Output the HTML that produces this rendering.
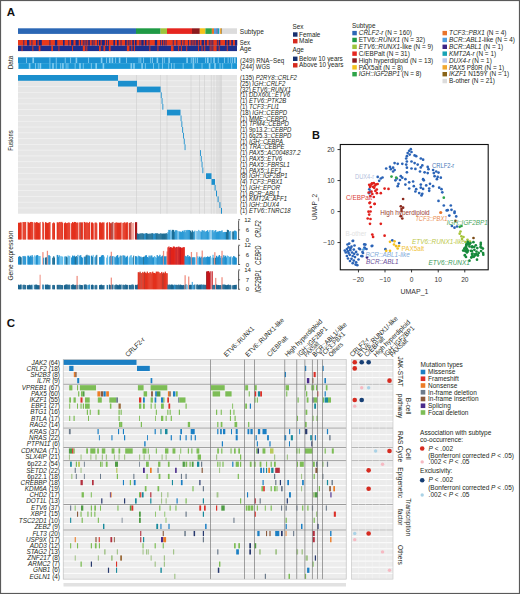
<!DOCTYPE html>
<html><head><meta charset="utf-8"><style>
html,body{margin:0;padding:0;background:#fff;}
svg{display:block;font-family:"Liberation Sans", sans-serif;}

</style></head><body>
<svg width="520" height="594" viewBox="0 0 520 594">
<rect x="0" y="0" width="520" height="594" fill="#fff"/>
<text x="6.80" y="16.30" font-size="11.5" fill="#111" font-weight="bold" >A</text>
<rect x="18.00" y="28.30" width="118.00" height="5.60" fill="#2b67b5" />
<rect x="136.00" y="28.30" width="24.60" height="5.60" fill="#1f9a45" />
<rect x="160.60" y="28.30" width="6.40" height="5.60" fill="#9dc43b" />
<rect x="167.00" y="28.30" width="25.00" height="5.60" fill="#e6261f" />
<rect x="192.00" y="28.30" width="7.80" height="5.60" fill="#8c1b1e" />
<rect x="199.80" y="28.30" width="5.60" height="5.60" fill="#f4c21c" />
<rect x="205.40" y="28.30" width="6.50" height="5.60" fill="#2ea449" />
<rect x="211.90" y="28.30" width="2.10" height="5.60" fill="#e8742b" />
<rect x="214.00" y="28.30" width="2.60" height="5.60" fill="#4f9fdf" />
<rect x="216.60" y="28.30" width="1.00" height="5.60" fill="#3b2383" />
<rect x="217.60" y="28.30" width="1.40" height="5.60" fill="#17a3b5" />
<rect x="219.00" y="28.30" width="1.00" height="5.60" fill="#b9c6ea" />
<rect x="220.00" y="28.30" width="1.00" height="5.60" fill="#f0a72f" />
<rect x="221.00" y="28.30" width="0.80" height="5.60" fill="#8a6417" />
<rect x="221.80" y="28.30" width="15.20" height="5.60" fill="#dcdcdc" />
<rect x="18.00" y="40.00" width="219.00" height="5.60" fill="#e8391b" />
<rect x="23.40" y="40.00" width="0.85" height="5.60" fill="#1a2783" />
<rect x="27.00" y="40.00" width="2.35" height="5.60" fill="#1a2783" />
<rect x="31.50" y="40.00" width="0.85" height="5.60" fill="#1a2783" />
<rect x="36.00" y="40.00" width="1.60" height="5.60" fill="#1a2783" />
<rect x="38.70" y="40.00" width="3.10" height="5.60" fill="#1a2783" />
<rect x="49.50" y="40.00" width="0.85" height="5.60" fill="#1a2783" />
<rect x="54.90" y="40.00" width="2.35" height="5.60" fill="#1a2783" />
<rect x="63.00" y="40.00" width="1.60" height="5.60" fill="#1a2783" />
<rect x="68.40" y="40.00" width="0.85" height="5.60" fill="#1a2783" />
<rect x="71.10" y="40.00" width="2.35" height="5.60" fill="#1a2783" />
<rect x="75.60" y="40.00" width="3.10" height="5.60" fill="#1a2783" />
<rect x="80.10" y="40.00" width="0.85" height="5.60" fill="#1a2783" />
<rect x="82.80" y="40.00" width="0.85" height="5.60" fill="#1a2783" />
<rect x="84.60" y="40.00" width="0.85" height="5.60" fill="#1a2783" />
<rect x="86.40" y="40.00" width="0.85" height="5.60" fill="#1a2783" />
<rect x="88.20" y="40.00" width="1.60" height="5.60" fill="#1a2783" />
<rect x="91.80" y="40.00" width="0.85" height="5.60" fill="#1a2783" />
<rect x="93.60" y="40.00" width="0.85" height="5.60" fill="#1a2783" />
<rect x="97.20" y="40.00" width="0.85" height="5.60" fill="#1a2783" />
<rect x="99.00" y="40.00" width="1.60" height="5.60" fill="#1a2783" />
<rect x="101.70" y="40.00" width="3.10" height="5.60" fill="#1a2783" />
<rect x="106.20" y="40.00" width="0.85" height="5.60" fill="#1a2783" />
<rect x="108.00" y="40.00" width="0.85" height="5.60" fill="#1a2783" />
<rect x="113.40" y="40.00" width="1.60" height="5.60" fill="#1a2783" />
<rect x="117.00" y="40.00" width="1.60" height="5.60" fill="#1a2783" />
<rect x="120.60" y="40.00" width="0.85" height="5.60" fill="#1a2783" />
<rect x="125.10" y="40.00" width="1.60" height="5.60" fill="#1a2783" />
<rect x="127.80" y="40.00" width="0.85" height="5.60" fill="#1a2783" />
<rect x="129.60" y="40.00" width="0.85" height="5.60" fill="#1a2783" />
<rect x="132.30" y="40.00" width="1.60" height="5.60" fill="#1a2783" />
<rect x="135.00" y="40.00" width="1.60" height="5.60" fill="#1a2783" />
<rect x="139.50" y="40.00" width="0.85" height="5.60" fill="#1a2783" />
<rect x="141.30" y="40.00" width="2.35" height="5.60" fill="#1a2783" />
<rect x="144.90" y="40.00" width="1.60" height="5.60" fill="#1a2783" />
<rect x="148.50" y="40.00" width="0.85" height="5.60" fill="#1a2783" />
<rect x="154.80" y="40.00" width="2.35" height="5.60" fill="#1a2783" />
<rect x="160.20" y="40.00" width="0.85" height="5.60" fill="#1a2783" />
<rect x="162.00" y="40.00" width="0.85" height="5.60" fill="#1a2783" />
<rect x="163.80" y="40.00" width="0.85" height="5.60" fill="#1a2783" />
<rect x="165.60" y="40.00" width="0.85" height="5.60" fill="#1a2783" />
<rect x="172.80" y="40.00" width="0.85" height="5.60" fill="#1a2783" />
<rect x="176.40" y="40.00" width="0.85" height="5.60" fill="#1a2783" />
<rect x="180.90" y="40.00" width="0.85" height="5.60" fill="#1a2783" />
<rect x="183.60" y="40.00" width="0.85" height="5.60" fill="#1a2783" />
<rect x="188.10" y="40.00" width="0.85" height="5.60" fill="#1a2783" />
<rect x="190.80" y="40.00" width="0.85" height="5.60" fill="#1a2783" />
<rect x="192.60" y="40.00" width="0.85" height="5.60" fill="#1a2783" />
<rect x="194.40" y="40.00" width="0.85" height="5.60" fill="#1a2783" />
<rect x="196.20" y="40.00" width="1.60" height="5.60" fill="#1a2783" />
<rect x="198.90" y="40.00" width="0.85" height="5.60" fill="#1a2783" />
<rect x="201.60" y="40.00" width="2.35" height="5.60" fill="#1a2783" />
<rect x="205.20" y="40.00" width="1.60" height="5.60" fill="#1a2783" />
<rect x="208.80" y="40.00" width="0.85" height="5.60" fill="#1a2783" />
<rect x="210.60" y="40.00" width="0.85" height="5.60" fill="#1a2783" />
<rect x="212.40" y="40.00" width="0.85" height="5.60" fill="#1a2783" />
<rect x="216.90" y="40.00" width="0.85" height="5.60" fill="#1a2783" />
<rect x="218.70" y="40.00" width="1.60" height="5.60" fill="#1a2783" />
<rect x="225.00" y="40.00" width="1.60" height="5.60" fill="#1a2783" />
<rect x="227.70" y="40.00" width="1.60" height="5.60" fill="#1a2783" />
<rect x="231.30" y="40.00" width="1.60" height="5.60" fill="#1a2783" />
<rect x="234.90" y="40.00" width="2.35" height="5.60" fill="#1a2783" />
<rect x="18.00" y="45.60" width="219.00" height="5.50" fill="#1c2f8c" />
<rect x="21.60" y="45.60" width="0.90" height="5.50" fill="#e8391b" />
<rect x="32.40" y="45.60" width="0.90" height="5.50" fill="#e8391b" />
<rect x="38.70" y="45.60" width="1.70" height="5.50" fill="#e8391b" />
<rect x="51.30" y="45.60" width="1.70" height="5.50" fill="#e8391b" />
<rect x="58.50" y="45.60" width="0.90" height="5.50" fill="#e8391b" />
<rect x="72.00" y="45.60" width="0.90" height="5.50" fill="#e8391b" />
<rect x="82.80" y="45.60" width="2.50" height="5.50" fill="#e8391b" />
<rect x="86.40" y="45.60" width="0.90" height="5.50" fill="#e8391b" />
<rect x="99.00" y="45.60" width="1.70" height="5.50" fill="#e8391b" />
<rect x="103.50" y="45.60" width="1.70" height="5.50" fill="#e8391b" />
<rect x="108.90" y="45.60" width="1.70" height="5.50" fill="#e8391b" />
<rect x="126.90" y="45.60" width="2.50" height="5.50" fill="#e8391b" />
<rect x="131.40" y="45.60" width="0.90" height="5.50" fill="#e8391b" />
<rect x="134.10" y="45.60" width="0.90" height="5.50" fill="#e8391b" />
<rect x="149.40" y="45.60" width="0.90" height="5.50" fill="#e8391b" />
<rect x="157.50" y="45.60" width="0.90" height="5.50" fill="#e8391b" />
<rect x="171.00" y="45.60" width="2.50" height="5.50" fill="#e8391b" />
<rect x="178.20" y="45.60" width="0.90" height="5.50" fill="#e8391b" />
<rect x="180.90" y="45.60" width="0.90" height="5.50" fill="#e8391b" />
<rect x="186.30" y="45.60" width="0.90" height="5.50" fill="#e8391b" />
<rect x="198.00" y="45.60" width="0.90" height="5.50" fill="#e8391b" />
<rect x="201.60" y="45.60" width="0.90" height="5.50" fill="#e8391b" />
<rect x="204.30" y="45.60" width="0.90" height="5.50" fill="#e8391b" />
<rect x="209.70" y="45.60" width="0.90" height="5.50" fill="#e8391b" />
<rect x="211.50" y="45.60" width="0.90" height="5.50" fill="#e8391b" />
<rect x="213.30" y="45.60" width="3.30" height="5.50" fill="#e8391b" />
<rect x="218.70" y="45.60" width="0.90" height="5.50" fill="#e8391b" />
<rect x="226.80" y="45.60" width="0.90" height="5.50" fill="#e8391b" />
<rect x="18.00" y="57.30" width="219.00" height="5.80" fill="#1a8fd0" />
<rect x="26.10" y="57.30" width="0.85" height="5.80" fill="#86cdf0" />
<rect x="32.40" y="57.30" width="1.60" height="5.80" fill="#86cdf0" />
<rect x="49.50" y="57.30" width="0.85" height="5.80" fill="#86cdf0" />
<rect x="55.80" y="57.30" width="0.85" height="5.80" fill="#86cdf0" />
<rect x="64.80" y="57.30" width="0.85" height="5.80" fill="#86cdf0" />
<rect x="70.20" y="57.30" width="0.85" height="5.80" fill="#86cdf0" />
<rect x="75.60" y="57.30" width="1.60" height="5.80" fill="#86cdf0" />
<rect x="88.20" y="57.30" width="0.85" height="5.80" fill="#86cdf0" />
<rect x="100.80" y="57.30" width="1.60" height="5.80" fill="#86cdf0" />
<rect x="106.20" y="57.30" width="0.85" height="5.80" fill="#86cdf0" />
<rect x="108.90" y="57.30" width="1.60" height="5.80" fill="#86cdf0" />
<rect x="111.60" y="57.30" width="1.60" height="5.80" fill="#86cdf0" />
<rect x="115.20" y="57.30" width="0.85" height="5.80" fill="#86cdf0" />
<rect x="118.80" y="57.30" width="1.60" height="5.80" fill="#86cdf0" />
<rect x="126.00" y="57.30" width="0.85" height="5.80" fill="#86cdf0" />
<rect x="138.60" y="57.30" width="0.85" height="5.80" fill="#86cdf0" />
<rect x="140.40" y="57.30" width="0.85" height="5.80" fill="#86cdf0" />
<rect x="143.10" y="57.30" width="0.85" height="5.80" fill="#86cdf0" />
<rect x="150.30" y="57.30" width="0.85" height="5.80" fill="#86cdf0" />
<rect x="152.10" y="57.30" width="0.85" height="5.80" fill="#86cdf0" />
<rect x="156.60" y="57.30" width="1.60" height="5.80" fill="#86cdf0" />
<rect x="162.00" y="57.30" width="0.85" height="5.80" fill="#86cdf0" />
<rect x="163.80" y="57.30" width="0.85" height="5.80" fill="#86cdf0" />
<rect x="168.30" y="57.30" width="1.60" height="5.80" fill="#86cdf0" />
<rect x="186.30" y="57.30" width="1.60" height="5.80" fill="#86cdf0" />
<rect x="190.80" y="57.30" width="0.85" height="5.80" fill="#86cdf0" />
<rect x="192.60" y="57.30" width="1.60" height="5.80" fill="#86cdf0" />
<rect x="195.30" y="57.30" width="0.85" height="5.80" fill="#86cdf0" />
<rect x="197.10" y="57.30" width="0.85" height="5.80" fill="#86cdf0" />
<rect x="205.20" y="57.30" width="0.85" height="5.80" fill="#86cdf0" />
<rect x="207.00" y="57.30" width="1.60" height="5.80" fill="#86cdf0" />
<rect x="210.60" y="57.30" width="0.85" height="5.80" fill="#86cdf0" />
<rect x="213.30" y="57.30" width="1.60" height="5.80" fill="#86cdf0" />
<rect x="217.80" y="57.30" width="0.85" height="5.80" fill="#86cdf0" />
<rect x="224.10" y="57.30" width="0.85" height="5.80" fill="#86cdf0" />
<rect x="227.70" y="57.30" width="0.85" height="5.80" fill="#86cdf0" />
<rect x="230.40" y="57.30" width="0.85" height="5.80" fill="#86cdf0" />
<rect x="232.20" y="57.30" width="0.85" height="5.80" fill="#86cdf0" />
<rect x="234.00" y="57.30" width="1.60" height="5.80" fill="#86cdf0" />
<rect x="18.00" y="63.10" width="219.00" height="5.80" fill="#1b97d5" />
<rect x="18.00" y="63.10" width="0.85" height="5.80" fill="#86cdf0" />
<rect x="28.80" y="63.10" width="1.60" height="5.80" fill="#86cdf0" />
<rect x="35.10" y="63.10" width="0.85" height="5.80" fill="#86cdf0" />
<rect x="37.80" y="63.10" width="0.85" height="5.80" fill="#86cdf0" />
<rect x="39.60" y="63.10" width="1.60" height="5.80" fill="#86cdf0" />
<rect x="49.50" y="63.10" width="0.85" height="5.80" fill="#86cdf0" />
<rect x="52.20" y="63.10" width="1.60" height="5.80" fill="#86cdf0" />
<rect x="55.80" y="63.10" width="0.85" height="5.80" fill="#86cdf0" />
<rect x="60.30" y="63.10" width="0.85" height="5.80" fill="#86cdf0" />
<rect x="62.10" y="63.10" width="1.60" height="5.80" fill="#86cdf0" />
<rect x="65.70" y="63.10" width="0.85" height="5.80" fill="#86cdf0" />
<rect x="67.50" y="63.10" width="0.85" height="5.80" fill="#86cdf0" />
<rect x="74.70" y="63.10" width="0.85" height="5.80" fill="#86cdf0" />
<rect x="79.20" y="63.10" width="1.60" height="5.80" fill="#86cdf0" />
<rect x="82.80" y="63.10" width="0.85" height="5.80" fill="#86cdf0" />
<rect x="90.90" y="63.10" width="0.85" height="5.80" fill="#86cdf0" />
<rect x="95.40" y="63.10" width="1.60" height="5.80" fill="#86cdf0" />
<rect x="102.60" y="63.10" width="1.60" height="5.80" fill="#86cdf0" />
<rect x="130.50" y="63.10" width="1.60" height="5.80" fill="#86cdf0" />
<rect x="133.20" y="63.10" width="1.60" height="5.80" fill="#86cdf0" />
<rect x="141.30" y="63.10" width="1.60" height="5.80" fill="#86cdf0" />
<rect x="144.90" y="63.10" width="0.85" height="5.80" fill="#86cdf0" />
<rect x="153.00" y="63.10" width="0.85" height="5.80" fill="#86cdf0" />
<rect x="158.40" y="63.10" width="0.85" height="5.80" fill="#86cdf0" />
<rect x="162.00" y="63.10" width="0.85" height="5.80" fill="#86cdf0" />
<rect x="168.30" y="63.10" width="0.85" height="5.80" fill="#86cdf0" />
<rect x="171.00" y="63.10" width="0.85" height="5.80" fill="#86cdf0" />
<rect x="173.70" y="63.10" width="0.85" height="5.80" fill="#86cdf0" />
<rect x="182.70" y="63.10" width="0.85" height="5.80" fill="#86cdf0" />
<rect x="192.60" y="63.10" width="1.60" height="5.80" fill="#86cdf0" />
<rect x="201.60" y="63.10" width="0.85" height="5.80" fill="#86cdf0" />
<rect x="208.80" y="63.10" width="1.60" height="5.80" fill="#86cdf0" />
<rect x="214.20" y="63.10" width="1.60" height="5.80" fill="#86cdf0" />
<rect x="219.60" y="63.10" width="0.85" height="5.80" fill="#86cdf0" />
<rect x="222.30" y="63.10" width="0.85" height="5.80" fill="#86cdf0" />
<rect x="231.30" y="63.10" width="0.85" height="5.80" fill="#86cdf0" />
<rect x="18.00" y="75.00" width="219.00" height="138.72" fill="#e6e6e6" />
<rect x="18.00" y="80.43" width="219.00" height="0.70" fill="#f3f3f3" />
<rect x="18.00" y="86.21" width="219.00" height="0.70" fill="#f3f3f3" />
<rect x="18.00" y="91.99" width="219.00" height="0.70" fill="#f3f3f3" />
<rect x="18.00" y="97.77" width="219.00" height="0.70" fill="#f3f3f3" />
<rect x="18.00" y="103.55" width="219.00" height="0.70" fill="#f3f3f3" />
<rect x="18.00" y="109.33" width="219.00" height="0.70" fill="#f3f3f3" />
<rect x="18.00" y="115.11" width="219.00" height="0.70" fill="#f3f3f3" />
<rect x="18.00" y="120.89" width="219.00" height="0.70" fill="#f3f3f3" />
<rect x="18.00" y="126.67" width="219.00" height="0.70" fill="#f3f3f3" />
<rect x="18.00" y="132.45" width="219.00" height="0.70" fill="#f3f3f3" />
<rect x="18.00" y="138.23" width="219.00" height="0.70" fill="#f3f3f3" />
<rect x="18.00" y="144.01" width="219.00" height="0.70" fill="#f3f3f3" />
<rect x="18.00" y="149.79" width="219.00" height="0.70" fill="#f3f3f3" />
<rect x="18.00" y="155.57" width="219.00" height="0.70" fill="#f3f3f3" />
<rect x="18.00" y="161.35" width="219.00" height="0.70" fill="#f3f3f3" />
<rect x="18.00" y="167.13" width="219.00" height="0.70" fill="#f3f3f3" />
<rect x="18.00" y="172.91" width="219.00" height="0.70" fill="#f3f3f3" />
<rect x="18.00" y="178.69" width="219.00" height="0.70" fill="#f3f3f3" />
<rect x="18.00" y="184.47" width="219.00" height="0.70" fill="#f3f3f3" />
<rect x="18.00" y="190.25" width="219.00" height="0.70" fill="#f3f3f3" />
<rect x="18.00" y="196.03" width="219.00" height="0.70" fill="#f3f3f3" />
<rect x="18.00" y="201.81" width="219.00" height="0.70" fill="#f3f3f3" />
<rect x="18.00" y="207.59" width="219.00" height="0.70" fill="#f3f3f3" />
<rect x="136.00" y="75.00" width="0.60" height="138.72" fill="#cfcfcf" />
<rect x="160.20" y="75.00" width="0.60" height="138.72" fill="#cfcfcf" />
<rect x="166.70" y="75.00" width="0.60" height="138.72" fill="#cfcfcf" />
<rect x="190.70" y="75.00" width="0.60" height="138.72" fill="#cfcfcf" />
<rect x="199.00" y="75.00" width="0.60" height="138.72" fill="#cfcfcf" />
<rect x="204.20" y="75.00" width="0.60" height="138.72" fill="#cfcfcf" />
<rect x="210.90" y="75.00" width="0.60" height="138.72" fill="#cfcfcf" />
<rect x="213.70" y="75.00" width="0.60" height="138.72" fill="#cfcfcf" />
<rect x="216.60" y="75.00" width="0.60" height="138.72" fill="#cfcfcf" />
<rect x="217.70" y="75.00" width="0.60" height="138.72" fill="#cfcfcf" />
<rect x="218.90" y="75.00" width="0.60" height="138.72" fill="#cfcfcf" />
<rect x="220.00" y="75.00" width="0.60" height="138.72" fill="#cfcfcf" />
<rect x="221.20" y="75.00" width="0.60" height="138.72" fill="#cfcfcf" />
<rect x="18.00" y="75.00" width="100.00" height="5.78" fill="#1b8fcd" />
<rect x="118.00" y="80.78" width="19.00" height="5.78" fill="#1b8fcd" />
<rect x="137.00" y="86.56" width="23.60" height="5.78" fill="#1b8fcd" />
<rect x="160.80" y="92.34" width="0.90" height="5.78" fill="#1b8fcd" />
<rect x="161.60" y="98.12" width="0.90" height="5.78" fill="#1b8fcd" />
<rect x="162.40" y="103.90" width="0.90" height="5.78" fill="#1b8fcd" />
<rect x="167.00" y="109.68" width="13.50" height="5.78" fill="#1b8fcd" />
<rect x="180.60" y="115.46" width="0.90" height="5.78" fill="#1b8fcd" />
<rect x="181.40" y="121.24" width="0.90" height="5.78" fill="#1b8fcd" />
<rect x="182.20" y="127.02" width="0.90" height="5.78" fill="#1b8fcd" />
<rect x="183.00" y="132.80" width="0.90" height="5.78" fill="#1b8fcd" />
<rect x="183.80" y="138.58" width="0.90" height="5.78" fill="#1b8fcd" />
<rect x="184.60" y="144.36" width="0.90" height="5.78" fill="#1b8fcd" />
<rect x="200.00" y="150.14" width="0.90" height="5.78" fill="#1b8fcd" />
<rect x="200.80" y="155.92" width="0.90" height="5.78" fill="#1b8fcd" />
<rect x="201.60" y="161.70" width="0.90" height="5.78" fill="#1b8fcd" />
<rect x="202.40" y="167.48" width="0.90" height="5.78" fill="#1b8fcd" />
<rect x="206.00" y="173.26" width="5.50" height="5.78" fill="#1b8fcd" />
<rect x="211.50" y="179.04" width="3.50" height="5.78" fill="#1b8fcd" />
<rect x="214.60" y="184.82" width="1.00" height="5.78" fill="#1b8fcd" />
<rect x="216.00" y="190.60" width="1.00" height="5.78" fill="#1b8fcd" />
<rect x="217.60" y="196.38" width="1.00" height="5.78" fill="#1b8fcd" />
<rect x="219.40" y="202.16" width="1.00" height="5.78" fill="#1b8fcd" />
<rect x="221.00" y="207.94" width="1.00" height="5.78" fill="#1b8fcd" />
<text x="239.80" y="33.70" font-size="6.6" fill="#231f20" textLength="24" lengthAdjust="spacingAndGlyphs">Subtype</text>
<text x="239.80" y="44.70" font-size="6.8" fill="#231f20" textLength="10.2" lengthAdjust="spacingAndGlyphs">Sex</text>
<text x="239.80" y="51.00" font-size="6.8" fill="#231f20" textLength="11.5" lengthAdjust="spacingAndGlyphs">Age</text>
<text x="240.10" y="62.80" font-size="6.5" fill="#231f20" textLength="44" lengthAdjust="spacingAndGlyphs">(249) RNA−Seq</text>
<text x="240.10" y="68.60" font-size="6.5" fill="#231f20" textLength="30" lengthAdjust="spacingAndGlyphs">(244) WGS</text>
<text x="240.00" y="80.09" font-size="6.5" fill="#231f20" textLength="56.9" lengthAdjust="spacingAndGlyphs">(135) <tspan font-style="italic">P2RY8</tspan>::<tspan font-style="italic">CRLF2</tspan></text>
<text x="240.00" y="85.87" font-size="6.5" fill="#231f20" textLength="45.3" lengthAdjust="spacingAndGlyphs">(25) <tspan font-style="italic">IGH</tspan>::<tspan font-style="italic">CRLF2</tspan></text>
<text x="240.00" y="91.65" font-size="6.5" fill="#231f20" textLength="51.0" lengthAdjust="spacingAndGlyphs">(32) <tspan font-style="italic">ETV6</tspan>::<tspan font-style="italic">RUNX1</tspan></text>
<text x="240.00" y="97.43" font-size="6.5" fill="#231f20" textLength="50.0" lengthAdjust="spacingAndGlyphs">(1) <tspan font-style="italic">DDX60L</tspan>::<tspan font-style="italic">ETV6</tspan></text>
<text x="240.00" y="103.21" font-size="6.5" fill="#231f20" textLength="46.3" lengthAdjust="spacingAndGlyphs">(1) <tspan font-style="italic">ETV6</tspan>::<tspan font-style="italic">PTK2B</tspan></text>
<text x="240.00" y="108.99" font-size="6.5" fill="#231f20" textLength="39.2" lengthAdjust="spacingAndGlyphs">(1) <tspan font-style="italic">TCF3</tspan>::<tspan font-style="italic">FLI1</tspan></text>
<text x="240.00" y="114.77" font-size="6.5" fill="#231f20" textLength="47.0" lengthAdjust="spacingAndGlyphs">(18) <tspan font-style="italic">IGH</tspan>::<tspan font-style="italic">CEBPD</tspan></text>
<text x="240.00" y="120.55" font-size="6.5" fill="#231f20" textLength="47.0" lengthAdjust="spacingAndGlyphs">(1) <tspan font-style="italic">MME</tspan>::<tspan font-style="italic">CEBPD</tspan></text>
<text x="240.00" y="126.33" font-size="6.5" fill="#231f20" textLength="48.9" lengthAdjust="spacingAndGlyphs">(1) <tspan font-style="italic">TPM4</tspan>::<tspan font-style="italic">CEBPD</tspan></text>
<text x="240.00" y="132.11" font-size="6.5" fill="#231f20" textLength="51.4" lengthAdjust="spacingAndGlyphs">(1) 9p13.2::<tspan font-style="italic">CEBPD</tspan></text>
<text x="240.00" y="137.89" font-size="6.5" fill="#231f20" textLength="51.4" lengthAdjust="spacingAndGlyphs">(1) 6q25.3::<tspan font-style="italic">CEBPD</tspan></text>
<text x="240.00" y="143.67" font-size="6.5" fill="#231f20" textLength="42.9" lengthAdjust="spacingAndGlyphs">(1) <tspan font-style="italic">IGH</tspan>::<tspan font-style="italic">CEBPA</tspan></text>
<text x="240.00" y="149.45" font-size="6.5" fill="#231f20" textLength="44.6" lengthAdjust="spacingAndGlyphs">(1) <tspan font-style="italic">TRA</tspan>::<tspan font-style="italic">CEBPE</tspan></text>
<text x="240.00" y="155.23" font-size="6.5" fill="#231f20" textLength="60.6" lengthAdjust="spacingAndGlyphs">(1) <tspan font-style="italic">PAX5</tspan>::<tspan font-style="italic">AC004837.2</tspan></text>
<text x="240.00" y="161.01" font-size="6.5" fill="#231f20" textLength="42.2" lengthAdjust="spacingAndGlyphs">(1) <tspan font-style="italic">PAX5</tspan>::<tspan font-style="italic">ETV6</tspan></text>
<text x="240.00" y="166.79" font-size="6.5" fill="#231f20" textLength="49.9" lengthAdjust="spacingAndGlyphs">(1) <tspan font-style="italic">PAX5</tspan>::<tspan font-style="italic">FBRSL1</tspan></text>
<text x="240.00" y="172.57" font-size="6.5" fill="#231f20" textLength="41.6" lengthAdjust="spacingAndGlyphs">(1) <tspan font-style="italic">PAX5</tspan>::<tspan font-style="italic">LEF1</tspan></text>
<text x="240.00" y="178.35" font-size="6.5" fill="#231f20" textLength="47.7" lengthAdjust="spacingAndGlyphs">(8) <tspan font-style="italic">IGH</tspan>::<tspan font-style="italic">IGF2BP1</tspan></text>
<text x="240.00" y="184.13" font-size="6.5" fill="#231f20" textLength="42.6" lengthAdjust="spacingAndGlyphs">(4) <tspan font-style="italic">TCF3</tspan>::<tspan font-style="italic">PBX1</tspan></text>
<text x="240.00" y="189.91" font-size="6.5" fill="#231f20" textLength="40.0" lengthAdjust="spacingAndGlyphs">(1) <tspan font-style="italic">IGH</tspan>::<tspan font-style="italic">EPOR</tspan></text>
<text x="240.00" y="195.69" font-size="6.5" fill="#231f20" textLength="39.7" lengthAdjust="spacingAndGlyphs">(1) <tspan font-style="italic">BCR</tspan>::<tspan font-style="italic">ABL1</tspan></text>
<text x="240.00" y="201.47" font-size="6.5" fill="#231f20" textLength="47.0" lengthAdjust="spacingAndGlyphs">(1) <tspan font-style="italic">KMT2A</tspan>::<tspan font-style="italic">AFF1</tspan></text>
<text x="240.00" y="207.25" font-size="6.5" fill="#231f20" textLength="39.0" lengthAdjust="spacingAndGlyphs">(1) <tspan font-style="italic">IGH</tspan>::<tspan font-style="italic">DUX4</tspan></text>
<text x="240.00" y="213.03" font-size="6.5" fill="#231f20" textLength="50.7" lengthAdjust="spacingAndGlyphs">(1) <tspan font-style="italic">ETV6</tspan>::<tspan font-style="italic">TNRC18</tspan></text>
<text x="0.00" y="0.00" font-size="6.5" fill="#231f20" text-anchor="middle" transform="translate(12.7,62.5) rotate(-90)" >Data</text>
<text x="0.00" y="0.00" font-size="6.5" fill="#231f20" text-anchor="middle" transform="translate(12.7,140.6) rotate(-90)" textLength="20.5" lengthAdjust="spacingAndGlyphs">Fusions</text>
<text x="0.00" y="0.00" font-size="7.6" fill="#231f20" text-anchor="middle" transform="translate(13.2,255.6) rotate(-90)" textLength="50" lengthAdjust="spacingAndGlyphs">Gene expression</text>
<rect x="18.00" y="222.73" width="1.25" height="16.77" fill="#e3311d" />
<rect x="18.90" y="222.78" width="1.25" height="16.72" fill="#e3311d" />
<rect x="19.80" y="222.45" width="1.25" height="17.05" fill="#e3311d" />
<rect x="20.70" y="222.45" width="1.00" height="17.05" fill="#e3311d" />
<rect x="22.50" y="222.00" width="1.25" height="17.50" fill="#e3311d" />
<rect x="23.40" y="222.31" width="1.25" height="17.19" fill="#e3311d" />
<rect x="24.30" y="221.96" width="1.25" height="17.54" fill="#e3311d" />
<rect x="25.20" y="222.06" width="1.00" height="17.44" fill="#e3311d" />
<rect x="27.00" y="221.87" width="1.25" height="17.63" fill="#f4a198" />
<rect x="27.90" y="222.33" width="1.25" height="17.17" fill="#e3311d" />
<rect x="28.80" y="223.05" width="1.25" height="16.45" fill="#e3311d" />
<rect x="29.70" y="222.06" width="1.25" height="17.44" fill="#e3311d" />
<rect x="30.60" y="221.91" width="1.25" height="17.59" fill="#e3311d" />
<rect x="31.50" y="222.00" width="1.25" height="17.50" fill="#e3311d" />
<rect x="32.40" y="222.47" width="1.00" height="17.03" fill="#e3311d" />
<rect x="34.20" y="222.27" width="1.25" height="17.23" fill="#e3311d" />
<rect x="35.10" y="222.98" width="1.25" height="16.52" fill="#e3311d" />
<rect x="36.00" y="222.10" width="1.25" height="17.40" fill="#e3311d" />
<rect x="36.90" y="222.46" width="1.25" height="17.04" fill="#e3311d" />
<rect x="37.80" y="222.87" width="1.25" height="16.63" fill="#e3311d" />
<rect x="38.70" y="223.19" width="1.25" height="16.31" fill="#e3311d" />
<rect x="39.60" y="222.07" width="1.00" height="17.43" fill="#e3311d" />
<rect x="42.30" y="221.87" width="1.25" height="17.63" fill="#e3311d" />
<rect x="43.20" y="223.15" width="1.00" height="16.35" fill="#e3311d" />
<rect x="45.00" y="222.14" width="1.25" height="17.36" fill="#e3311d" />
<rect x="45.90" y="222.70" width="1.25" height="16.80" fill="#e3311d" />
<rect x="46.80" y="223.06" width="1.25" height="16.44" fill="#e3311d" />
<rect x="47.70" y="222.86" width="1.25" height="16.64" fill="#e3311d" />
<rect x="48.60" y="222.19" width="1.25" height="17.31" fill="#e3311d" />
<rect x="49.50" y="222.04" width="1.00" height="17.46" fill="#e3311d" />
<rect x="52.20" y="223.21" width="1.25" height="16.29" fill="#e3311d" />
<rect x="53.10" y="222.41" width="1.25" height="17.09" fill="#e3311d" />
<rect x="54.00" y="223.21" width="1.00" height="16.29" fill="#e3311d" />
<rect x="56.70" y="222.26" width="1.25" height="17.24" fill="#e3311d" />
<rect x="57.60" y="222.81" width="1.25" height="16.69" fill="#e3311d" />
<rect x="58.50" y="222.03" width="1.25" height="17.47" fill="#e3311d" />
<rect x="59.40" y="221.89" width="1.25" height="17.61" fill="#e3311d" />
<rect x="60.30" y="222.56" width="1.25" height="16.94" fill="#e3311d" />
<rect x="61.20" y="221.86" width="1.25" height="17.64" fill="#e3311d" />
<rect x="62.10" y="222.84" width="1.00" height="16.66" fill="#e3311d" />
<rect x="63.90" y="223.17" width="1.25" height="16.33" fill="#e3311d" />
<rect x="64.80" y="222.43" width="1.25" height="17.07" fill="#e3311d" />
<rect x="65.70" y="223.23" width="1.25" height="16.27" fill="#e3311d" />
<rect x="66.60" y="223.00" width="1.25" height="16.50" fill="#e3311d" />
<rect x="67.50" y="222.70" width="1.25" height="16.80" fill="#e3311d" />
<rect x="68.40" y="222.41" width="1.25" height="17.09" fill="#e3311d" />
<rect x="69.30" y="223.06" width="1.00" height="16.44" fill="#e3311d" />
<rect x="71.10" y="223.22" width="1.25" height="16.28" fill="#e3311d" />
<rect x="72.00" y="222.05" width="1.25" height="17.45" fill="#e3311d" />
<rect x="72.90" y="222.83" width="1.25" height="16.67" fill="#e3311d" />
<rect x="73.80" y="221.92" width="1.25" height="17.58" fill="#e3311d" />
<rect x="74.70" y="222.01" width="1.25" height="17.49" fill="#e3311d" />
<rect x="75.60" y="222.74" width="1.25" height="16.76" fill="#e3311d" />
<rect x="76.50" y="222.62" width="1.25" height="16.88" fill="#e3311d" />
<rect x="77.40" y="222.54" width="1.00" height="16.96" fill="#e3311d" />
<rect x="79.20" y="222.36" width="1.25" height="17.14" fill="#e3311d" />
<rect x="80.10" y="222.43" width="1.25" height="17.07" fill="#b8433a" />
<rect x="81.00" y="222.48" width="1.25" height="17.02" fill="#e3311d" />
<rect x="81.90" y="222.40" width="1.00" height="17.10" fill="#e3311d" />
<rect x="83.70" y="221.94" width="1.25" height="17.56" fill="#e3311d" />
<rect x="84.60" y="222.56" width="1.25" height="16.94" fill="#e3311d" />
<rect x="85.50" y="222.67" width="1.25" height="16.83" fill="#e3311d" />
<rect x="86.40" y="222.26" width="1.25" height="17.24" fill="#e3311d" />
<rect x="87.30" y="222.94" width="1.25" height="16.56" fill="#e3311d" />
<rect x="88.20" y="222.85" width="1.25" height="16.65" fill="#e3311d" />
<rect x="89.10" y="221.89" width="1.00" height="17.61" fill="#e3311d" />
<rect x="90.90" y="222.54" width="1.25" height="16.96" fill="#e3311d" />
<rect x="91.80" y="222.50" width="1.25" height="17.00" fill="#e3311d" />
<rect x="92.70" y="223.26" width="1.00" height="16.24" fill="#e3311d" />
<rect x="94.50" y="222.69" width="1.25" height="16.81" fill="#e3311d" />
<rect x="95.40" y="222.46" width="1.25" height="17.04" fill="#e3311d" />
<rect x="96.30" y="223.25" width="1.00" height="16.25" fill="#e3311d" />
<rect x="99.00" y="222.40" width="1.25" height="17.10" fill="#e3311d" />
<rect x="99.90" y="222.38" width="1.25" height="17.12" fill="#e3311d" />
<rect x="100.80" y="223.19" width="1.25" height="16.31" fill="#e3311d" />
<rect x="101.70" y="222.39" width="1.25" height="17.11" fill="#e3311d" />
<rect x="102.60" y="222.62" width="1.25" height="16.88" fill="#e3311d" />
<rect x="103.50" y="222.31" width="1.00" height="17.19" fill="#e3311d" />
<rect x="106.20" y="222.78" width="1.25" height="16.72" fill="#e3311d" />
<rect x="107.10" y="222.28" width="1.00" height="17.22" fill="#e3311d" />
<rect x="108.90" y="222.23" width="1.25" height="17.27" fill="#e3311d" />
<rect x="109.80" y="223.25" width="1.25" height="16.25" fill="#e3311d" />
<rect x="110.70" y="223.19" width="1.25" height="16.31" fill="#b8433a" />
<rect x="111.60" y="222.32" width="1.25" height="17.18" fill="#b8433a" />
<rect x="112.50" y="221.91" width="1.00" height="17.59" fill="#b8433a" />
<rect x="114.30" y="222.92" width="1.25" height="16.58" fill="#e3311d" />
<rect x="115.20" y="222.63" width="1.25" height="16.87" fill="#e3311d" />
<rect x="116.10" y="222.44" width="1.25" height="17.06" fill="#e3311d" />
<rect x="117.00" y="222.82" width="1.25" height="16.68" fill="#e3311d" />
<rect x="117.90" y="222.76" width="1.25" height="16.74" fill="#e3311d" />
<rect x="118.80" y="222.83" width="1.25" height="16.67" fill="#e3311d" />
<rect x="119.70" y="222.75" width="1.25" height="16.75" fill="#e3311d" />
<rect x="120.60" y="222.43" width="1.00" height="17.07" fill="#e3311d" />
<rect x="122.40" y="222.85" width="1.25" height="16.65" fill="#e3311d" />
<rect x="123.30" y="222.74" width="1.25" height="16.76" fill="#e3311d" />
<rect x="124.20" y="222.18" width="1.25" height="17.32" fill="#e3311d" />
<rect x="125.10" y="223.24" width="1.25" height="16.26" fill="#e3311d" />
<rect x="126.00" y="222.47" width="1.25" height="17.03" fill="#e3311d" />
<rect x="126.90" y="222.24" width="1.00" height="17.26" fill="#e3311d" />
<rect x="128.70" y="222.84" width="1.25" height="16.66" fill="#e3311d" />
<rect x="129.60" y="222.96" width="1.25" height="16.54" fill="#b8433a" />
<rect x="130.50" y="222.14" width="1.25" height="17.36" fill="#b8433a" />
<rect x="131.40" y="222.94" width="1.25" height="16.56" fill="#f4a198" />
<rect x="132.30" y="223.01" width="1.25" height="16.49" fill="#f4a198" />
<rect x="133.20" y="222.66" width="1.00" height="16.84" fill="#f4a198" />
<rect x="135.00" y="222.18" width="1.25" height="17.32" fill="#a8161a" />
<rect x="135.90" y="222.18" width="1.25" height="17.32" fill="#a8161a" />
<rect x="136.80" y="233.33" width="1.25" height="6.17" fill="#1d6e95" />
<rect x="137.70" y="233.89" width="1.25" height="5.61" fill="#1d6e95" />
<rect x="138.60" y="233.68" width="1.25" height="5.82" fill="#1d6e95" />
<rect x="139.50" y="233.67" width="1.25" height="5.83" fill="#1d6e95" />
<rect x="140.40" y="233.20" width="1.25" height="6.30" fill="#1d6e95" />
<rect x="141.30" y="233.57" width="1.25" height="5.93" fill="#1d6e95" />
<rect x="142.20" y="233.18" width="1.25" height="6.32" fill="#1d6e95" />
<rect x="143.10" y="233.83" width="1.25" height="5.67" fill="#1d6e95" />
<rect x="144.00" y="233.67" width="1.25" height="5.83" fill="#2a8fc8" />
<rect x="144.90" y="233.37" width="1.25" height="6.13" fill="#2a8fc8" />
<rect x="145.80" y="233.15" width="1.25" height="6.35" fill="#1d6e95" />
<rect x="146.70" y="233.56" width="1.25" height="5.94" fill="#1d6e95" />
<rect x="147.60" y="233.77" width="1.25" height="5.73" fill="#1d6e95" />
<rect x="148.50" y="233.87" width="1.25" height="5.63" fill="#1d6e95" />
<rect x="149.40" y="233.49" width="1.25" height="6.01" fill="#1d6e95" />
<rect x="150.30" y="233.81" width="1.25" height="5.69" fill="#1d6e95" />
<rect x="151.20" y="233.23" width="1.25" height="6.27" fill="#1d6e95" />
<rect x="152.10" y="233.20" width="1.25" height="6.30" fill="#1d6e95" />
<rect x="153.00" y="233.81" width="1.25" height="5.69" fill="#2a8fc8" />
<rect x="153.90" y="233.72" width="1.25" height="5.78" fill="#2a8fc8" />
<rect x="154.80" y="233.22" width="1.25" height="6.28" fill="#2a8fc8" />
<rect x="155.70" y="233.38" width="1.25" height="6.12" fill="#1d6e95" />
<rect x="156.60" y="233.23" width="1.25" height="6.27" fill="#1d6e95" />
<rect x="157.50" y="233.66" width="1.25" height="5.84" fill="#1d6e95" />
<rect x="158.40" y="233.86" width="1.25" height="5.64" fill="#1d6e95" />
<rect x="159.30" y="233.71" width="1.25" height="5.79" fill="#1d6e95" />
<rect x="160.20" y="233.24" width="1.25" height="6.26" fill="#1d6e95" />
<rect x="161.10" y="233.73" width="1.25" height="5.77" fill="#1d6e95" />
<rect x="162.00" y="233.66" width="1.25" height="5.84" fill="#1d6e95" />
<rect x="162.90" y="233.59" width="1.25" height="5.91" fill="#1d6e95" />
<rect x="163.80" y="233.59" width="1.25" height="5.91" fill="#1d6e95" />
<rect x="164.70" y="233.60" width="1.25" height="5.90" fill="#1d6e95" />
<rect x="165.60" y="233.12" width="1.25" height="6.38" fill="#1d6e95" />
<rect x="166.50" y="233.84" width="1.25" height="5.66" fill="#1d6e95" />
<rect x="167.40" y="232.24" width="1.25" height="7.26" fill="#2a9ad6" />
<rect x="168.30" y="229.88" width="1.25" height="9.62" fill="#2a9ad6" />
<rect x="169.20" y="230.04" width="1.25" height="9.46" fill="#2a9ad6" />
<rect x="170.10" y="229.77" width="1.25" height="9.73" fill="#6dbce8" />
<rect x="171.00" y="231.16" width="1.25" height="8.34" fill="#6dbce8" />
<rect x="171.90" y="229.86" width="1.25" height="9.64" fill="#1d6e95" />
<rect x="172.80" y="229.92" width="1.25" height="9.58" fill="#1d6e95" />
<rect x="173.70" y="231.70" width="1.25" height="7.80" fill="#1d6e95" />
<rect x="174.60" y="230.38" width="1.25" height="9.12" fill="#2a9ad6" />
<rect x="175.50" y="230.15" width="1.25" height="9.35" fill="#2a9ad6" />
<rect x="176.40" y="230.58" width="1.25" height="8.92" fill="#2a9ad6" />
<rect x="177.30" y="230.95" width="1.25" height="8.55" fill="#6dbce8" />
<rect x="178.20" y="231.53" width="1.25" height="7.97" fill="#6dbce8" />
<rect x="179.10" y="231.40" width="1.25" height="8.10" fill="#2a9ad6" />
<rect x="180.00" y="231.68" width="1.25" height="7.82" fill="#2a9ad6" />
<rect x="180.90" y="232.08" width="1.25" height="7.42" fill="#2a9ad6" />
<rect x="181.80" y="230.77" width="1.25" height="8.73" fill="#2a9ad6" />
<rect x="182.70" y="231.53" width="1.25" height="7.97" fill="#2a9ad6" />
<rect x="183.60" y="230.21" width="1.25" height="9.29" fill="#2a9ad6" />
<rect x="184.50" y="232.14" width="1.25" height="7.36" fill="#2a9ad6" />
<rect x="185.40" y="229.98" width="1.25" height="9.52" fill="#2a9ad6" />
<rect x="186.30" y="230.51" width="1.25" height="8.99" fill="#2a9ad6" />
<rect x="187.20" y="229.93" width="1.25" height="9.57" fill="#2a9ad6" />
<rect x="188.10" y="230.00" width="1.25" height="9.50" fill="#2a9ad6" />
<rect x="189.00" y="229.99" width="1.25" height="9.51" fill="#2a9ad6" />
<rect x="189.90" y="230.80" width="1.25" height="8.70" fill="#1d6e95" />
<rect x="190.80" y="232.22" width="1.25" height="7.28" fill="#1d6e95" />
<rect x="191.70" y="230.38" width="1.25" height="9.12" fill="#1d6e95" />
<rect x="192.60" y="231.82" width="1.25" height="7.68" fill="#1d6e95" />
<rect x="193.50" y="231.50" width="1.25" height="8.00" fill="#2a9ad6" />
<rect x="194.40" y="230.58" width="1.00" height="8.92" fill="#2a9ad6" />
<rect x="196.20" y="230.93" width="1.25" height="8.57" fill="#6dbce8" />
<rect x="197.10" y="231.21" width="1.25" height="8.29" fill="#6dbce8" />
<rect x="198.00" y="229.89" width="1.25" height="9.61" fill="#6dbce8" />
<rect x="198.90" y="230.71" width="1.25" height="8.79" fill="#6dbce8" />
<rect x="199.80" y="231.39" width="1.25" height="8.11" fill="#6dbce8" />
<rect x="200.70" y="231.62" width="1.25" height="7.88" fill="#2a9ad6" />
<rect x="201.60" y="230.08" width="1.25" height="9.42" fill="#2a9ad6" />
<rect x="202.50" y="231.05" width="1.25" height="8.45" fill="#2a9ad6" />
<rect x="203.40" y="230.28" width="1.25" height="9.22" fill="#2a9ad6" />
<rect x="204.30" y="231.37" width="1.25" height="8.13" fill="#2a9ad6" />
<rect x="205.20" y="231.76" width="1.25" height="7.74" fill="#2a9ad6" />
<rect x="206.10" y="230.91" width="1.25" height="8.59" fill="#2a9ad6" />
<rect x="207.00" y="230.20" width="1.25" height="9.30" fill="#2a9ad6" />
<rect x="207.90" y="231.82" width="1.25" height="7.68" fill="#2a9ad6" />
<rect x="208.80" y="230.26" width="1.25" height="9.24" fill="#6dbce8" />
<rect x="209.70" y="229.93" width="1.00" height="9.57" fill="#6dbce8" />
<rect x="211.50" y="230.22" width="1.25" height="9.28" fill="#2a9ad6" />
<rect x="212.40" y="230.18" width="1.25" height="9.32" fill="#2a9ad6" />
<rect x="213.30" y="232.24" width="1.25" height="7.26" fill="#2a9ad6" />
<rect x="214.20" y="230.67" width="1.25" height="8.83" fill="#2a9ad6" />
<rect x="215.10" y="230.08" width="1.25" height="9.42" fill="#2a9ad6" />
<rect x="216.00" y="232.13" width="1.25" height="7.37" fill="#2a9ad6" />
<rect x="216.90" y="231.57" width="1.25" height="7.93" fill="#2a9ad6" />
<rect x="217.80" y="231.58" width="1.25" height="7.92" fill="#2a9ad6" />
<rect x="218.70" y="230.93" width="1.25" height="8.57" fill="#2a9ad6" />
<rect x="219.60" y="231.19" width="1.25" height="8.31" fill="#2a9ad6" />
<rect x="220.50" y="231.06" width="1.25" height="8.44" fill="#2a9ad6" />
<rect x="221.40" y="230.30" width="1.25" height="9.20" fill="#2a9ad6" />
<rect x="222.30" y="232.25" width="1.25" height="7.25" fill="#2a9ad6" />
<rect x="223.20" y="232.12" width="1.25" height="7.38" fill="#2a9ad6" />
<rect x="224.10" y="231.94" width="1.25" height="7.56" fill="#2a9ad6" />
<rect x="225.00" y="231.94" width="1.25" height="7.56" fill="#2a9ad6" />
<rect x="225.90" y="232.08" width="1.25" height="7.42" fill="#1d6e95" />
<rect x="226.80" y="229.80" width="1.25" height="9.70" fill="#1d6e95" />
<rect x="227.70" y="230.10" width="1.25" height="9.40" fill="#1d6e95" />
<rect x="228.60" y="232.04" width="1.25" height="7.46" fill="#2a9ad6" />
<rect x="229.50" y="230.99" width="1.25" height="8.51" fill="#2a9ad6" />
<rect x="230.40" y="231.46" width="1.00" height="8.04" fill="#6dbce8" />
<rect x="232.20" y="231.46" width="1.25" height="8.04" fill="#1d6e95" />
<rect x="233.10" y="231.37" width="1.25" height="8.13" fill="#1d6e95" />
<rect x="234.00" y="230.62" width="1.25" height="8.88" fill="#2a9ad6" />
<rect x="234.90" y="230.78" width="1.25" height="8.72" fill="#2a9ad6" />
<rect x="235.80" y="231.35" width="1.00" height="8.15" fill="#2a9ad6" />
<rect x="18.00" y="256.83" width="1.25" height="7.77" fill="#1f8fcf" />
<rect x="18.90" y="256.12" width="1.25" height="8.48" fill="#1f8fcf" />
<rect x="19.80" y="256.67" width="1.25" height="7.93" fill="#1d6e95" />
<rect x="20.70" y="257.30" width="1.00" height="7.30" fill="#1d6e95" />
<rect x="22.50" y="255.97" width="1.25" height="8.63" fill="#1f8fcf" />
<rect x="23.40" y="256.67" width="1.25" height="7.93" fill="#1f8fcf" />
<rect x="24.30" y="255.91" width="1.25" height="8.69" fill="#1f8fcf" />
<rect x="25.20" y="256.69" width="1.00" height="7.91" fill="#1f8fcf" />
<rect x="27.00" y="255.66" width="1.25" height="8.94" fill="#5ab8e8" />
<rect x="27.90" y="255.69" width="1.25" height="8.91" fill="#1f8fcf" />
<rect x="28.80" y="257.09" width="1.25" height="7.51" fill="#1f8fcf" />
<rect x="29.70" y="255.68" width="1.25" height="8.92" fill="#1f8fcf" />
<rect x="30.60" y="256.53" width="1.25" height="8.07" fill="#1f8fcf" />
<rect x="31.50" y="255.11" width="1.25" height="9.49" fill="#1f8fcf" />
<rect x="32.40" y="256.69" width="1.00" height="7.91" fill="#1f8fcf" />
<rect x="34.20" y="255.38" width="1.25" height="9.22" fill="#5ab8e8" />
<rect x="35.10" y="256.41" width="1.25" height="8.19" fill="#5ab8e8" />
<rect x="36.00" y="255.31" width="1.25" height="9.29" fill="#1f8fcf" />
<rect x="36.90" y="255.08" width="1.25" height="9.52" fill="#1f8fcf" />
<rect x="37.80" y="255.77" width="1.25" height="8.83" fill="#5ab8e8" />
<rect x="38.70" y="256.09" width="1.25" height="8.51" fill="#5ab8e8" />
<rect x="39.60" y="256.02" width="1.00" height="8.58" fill="#5ab8e8" />
<rect x="42.30" y="252.11" width="1.25" height="12.49" fill="#ef8e80" />
<rect x="43.20" y="257.72" width="1.00" height="6.88" fill="#1f8fcf" />
<rect x="45.00" y="257.55" width="1.25" height="7.05" fill="#1d6e95" />
<rect x="45.90" y="257.30" width="1.25" height="7.30" fill="#1d6e95" />
<rect x="46.80" y="250.79" width="1.25" height="13.81" fill="#ef8e80" />
<rect x="47.70" y="255.22" width="1.25" height="9.38" fill="#5ab8e8" />
<rect x="48.60" y="255.24" width="1.25" height="9.36" fill="#1f8fcf" />
<rect x="49.50" y="256.05" width="1.00" height="8.55" fill="#1f8fcf" />
<rect x="52.20" y="257.75" width="1.25" height="6.85" fill="#1d6e95" />
<rect x="53.10" y="256.26" width="1.25" height="8.34" fill="#1d6e95" />
<rect x="54.00" y="257.53" width="1.00" height="7.07" fill="#1d6e95" />
<rect x="56.70" y="254.93" width="1.25" height="9.67" fill="#1f8fcf" />
<rect x="57.60" y="256.85" width="1.25" height="7.75" fill="#1f8fcf" />
<rect x="58.50" y="255.27" width="1.25" height="9.33" fill="#1f8fcf" />
<rect x="59.40" y="257.30" width="1.25" height="7.30" fill="#5ab8e8" />
<rect x="60.30" y="255.93" width="1.25" height="8.67" fill="#5ab8e8" />
<rect x="61.20" y="256.63" width="1.25" height="7.97" fill="#5ab8e8" />
<rect x="62.10" y="256.62" width="1.00" height="7.98" fill="#5ab8e8" />
<rect x="63.90" y="256.55" width="1.25" height="8.05" fill="#5ab8e8" />
<rect x="64.80" y="256.29" width="1.25" height="8.31" fill="#5ab8e8" />
<rect x="65.70" y="256.57" width="1.25" height="8.03" fill="#1d6e95" />
<rect x="66.60" y="257.36" width="1.25" height="7.24" fill="#1d6e95" />
<rect x="67.50" y="255.49" width="1.25" height="9.11" fill="#5ab8e8" />
<rect x="68.40" y="256.24" width="1.25" height="8.36" fill="#5ab8e8" />
<rect x="69.30" y="255.85" width="1.00" height="8.75" fill="#5ab8e8" />
<rect x="71.10" y="257.39" width="1.25" height="7.21" fill="#1f8fcf" />
<rect x="72.00" y="255.52" width="1.25" height="9.08" fill="#1f8fcf" />
<rect x="72.90" y="256.24" width="1.25" height="8.36" fill="#1f8fcf" />
<rect x="73.80" y="255.61" width="1.25" height="8.99" fill="#1f8fcf" />
<rect x="74.70" y="257.02" width="1.25" height="7.58" fill="#1d6e95" />
<rect x="75.60" y="256.03" width="1.25" height="8.57" fill="#1d6e95" />
<rect x="76.50" y="257.13" width="1.25" height="7.47" fill="#1f8fcf" />
<rect x="77.40" y="254.87" width="1.00" height="9.73" fill="#1f8fcf" />
<rect x="79.20" y="255.65" width="1.25" height="8.95" fill="#1f8fcf" />
<rect x="80.10" y="255.19" width="1.25" height="9.41" fill="#1f8fcf" />
<rect x="81.00" y="257.02" width="1.25" height="7.58" fill="#1f8fcf" />
<rect x="81.90" y="257.79" width="1.00" height="6.81" fill="#1f8fcf" />
<rect x="83.70" y="256.66" width="1.25" height="7.94" fill="#1f8fcf" />
<rect x="84.60" y="256.73" width="1.25" height="7.87" fill="#1f8fcf" />
<rect x="85.50" y="255.44" width="1.25" height="9.16" fill="#1d6e95" />
<rect x="86.40" y="254.76" width="1.25" height="9.84" fill="#1d6e95" />
<rect x="87.30" y="255.98" width="1.25" height="8.62" fill="#1f8fcf" />
<rect x="88.20" y="255.25" width="1.25" height="9.35" fill="#1f8fcf" />
<rect x="89.10" y="256.12" width="1.00" height="8.48" fill="#1f8fcf" />
<rect x="90.90" y="255.60" width="1.25" height="9.00" fill="#1f8fcf" />
<rect x="91.80" y="256.61" width="1.25" height="7.99" fill="#1d6e95" />
<rect x="92.70" y="254.85" width="1.00" height="9.75" fill="#5ab8e8" />
<rect x="94.50" y="257.14" width="1.25" height="7.46" fill="#1f8fcf" />
<rect x="95.40" y="255.61" width="1.25" height="8.99" fill="#1f8fcf" />
<rect x="96.30" y="254.86" width="1.00" height="9.74" fill="#1d6e95" />
<rect x="99.00" y="257.10" width="1.25" height="7.50" fill="#1f8fcf" />
<rect x="99.90" y="257.05" width="1.25" height="7.55" fill="#1f8fcf" />
<rect x="100.80" y="255.65" width="1.25" height="8.95" fill="#1f8fcf" />
<rect x="101.70" y="255.04" width="1.25" height="9.56" fill="#1f8fcf" />
<rect x="102.60" y="255.15" width="1.25" height="9.45" fill="#1f8fcf" />
<rect x="103.50" y="256.54" width="1.00" height="8.06" fill="#1f8fcf" />
<rect x="106.20" y="257.59" width="1.25" height="7.01" fill="#5ab8e8" />
<rect x="107.10" y="255.25" width="1.00" height="9.35" fill="#5ab8e8" />
<rect x="108.90" y="256.74" width="1.25" height="7.86" fill="#5ab8e8" />
<rect x="109.80" y="255.74" width="1.25" height="8.86" fill="#1f8fcf" />
<rect x="110.70" y="251.75" width="1.25" height="12.85" fill="#ef8e80" />
<rect x="111.60" y="256.34" width="1.25" height="8.26" fill="#1f8fcf" />
<rect x="112.50" y="256.03" width="1.00" height="8.57" fill="#1f8fcf" />
<rect x="114.30" y="256.64" width="1.25" height="7.96" fill="#1f8fcf" />
<rect x="115.20" y="257.49" width="1.25" height="7.11" fill="#1f8fcf" />
<rect x="116.10" y="255.78" width="1.25" height="8.82" fill="#1f8fcf" />
<rect x="117.00" y="255.08" width="1.25" height="9.52" fill="#1f8fcf" />
<rect x="117.90" y="257.56" width="1.25" height="7.04" fill="#1f8fcf" />
<rect x="118.80" y="256.69" width="1.25" height="7.91" fill="#5ab8e8" />
<rect x="119.70" y="255.49" width="1.25" height="9.11" fill="#5ab8e8" />
<rect x="120.60" y="255.74" width="1.00" height="8.86" fill="#1d6e95" />
<rect x="122.40" y="255.34" width="1.25" height="9.26" fill="#1f8fcf" />
<rect x="123.30" y="255.50" width="1.25" height="9.10" fill="#1f8fcf" />
<rect x="124.20" y="255.75" width="1.25" height="8.85" fill="#1f8fcf" />
<rect x="125.10" y="257.51" width="1.25" height="7.09" fill="#1f8fcf" />
<rect x="126.00" y="256.76" width="1.25" height="7.84" fill="#1f8fcf" />
<rect x="126.90" y="255.74" width="1.00" height="8.86" fill="#1f8fcf" />
<rect x="128.70" y="257.29" width="1.25" height="7.31" fill="#5ab8e8" />
<rect x="129.60" y="255.88" width="1.25" height="8.72" fill="#5ab8e8" />
<rect x="130.50" y="255.07" width="1.25" height="9.53" fill="#5ab8e8" />
<rect x="131.40" y="257.48" width="1.25" height="7.12" fill="#5ab8e8" />
<rect x="132.30" y="257.42" width="1.25" height="7.18" fill="#5ab8e8" />
<rect x="133.20" y="255.60" width="1.00" height="9.00" fill="#1d6e95" />
<rect x="135.00" y="256.12" width="1.25" height="8.48" fill="#1f8fcf" />
<rect x="135.90" y="256.43" width="1.25" height="8.17" fill="#1f8fcf" />
<rect x="136.80" y="257.31" width="1.25" height="7.29" fill="#5ab8e8" />
<rect x="137.70" y="255.62" width="1.25" height="8.98" fill="#5ab8e8" />
<rect x="138.60" y="256.16" width="1.25" height="8.44" fill="#1f8fcf" />
<rect x="139.50" y="256.74" width="1.25" height="7.86" fill="#1f8fcf" />
<rect x="140.40" y="256.66" width="1.25" height="7.94" fill="#1f8fcf" />
<rect x="141.30" y="257.73" width="1.25" height="6.87" fill="#1f8fcf" />
<rect x="142.20" y="257.09" width="1.25" height="7.51" fill="#1f8fcf" />
<rect x="143.10" y="256.75" width="1.25" height="7.85" fill="#1d6e95" />
<rect x="144.00" y="256.60" width="1.25" height="8.00" fill="#1f8fcf" />
<rect x="144.90" y="255.44" width="1.25" height="9.16" fill="#1f8fcf" />
<rect x="145.80" y="255.21" width="1.25" height="9.39" fill="#1f8fcf" />
<rect x="146.70" y="257.01" width="1.25" height="7.59" fill="#1f8fcf" />
<rect x="147.60" y="257.51" width="1.25" height="7.09" fill="#1f8fcf" />
<rect x="148.50" y="255.58" width="1.25" height="9.02" fill="#1f8fcf" />
<rect x="149.40" y="257.27" width="1.25" height="7.33" fill="#1f8fcf" />
<rect x="150.30" y="255.53" width="1.25" height="9.07" fill="#1f8fcf" />
<rect x="151.20" y="255.52" width="1.25" height="9.08" fill="#1f8fcf" />
<rect x="152.10" y="257.40" width="1.25" height="7.20" fill="#1f8fcf" />
<rect x="153.00" y="257.26" width="1.25" height="7.34" fill="#1f8fcf" />
<rect x="153.90" y="256.08" width="1.25" height="8.52" fill="#5ab8e8" />
<rect x="154.80" y="257.08" width="1.25" height="7.52" fill="#5ab8e8" />
<rect x="155.70" y="257.77" width="1.25" height="6.83" fill="#5ab8e8" />
<rect x="156.60" y="255.07" width="1.25" height="9.53" fill="#1f8fcf" />
<rect x="157.50" y="256.66" width="1.25" height="7.94" fill="#1f8fcf" />
<rect x="158.40" y="256.03" width="1.25" height="8.57" fill="#1f8fcf" />
<rect x="159.30" y="254.80" width="1.25" height="9.80" fill="#1f8fcf" />
<rect x="160.20" y="256.92" width="1.25" height="7.68" fill="#1f8fcf" />
<rect x="161.10" y="256.34" width="1.25" height="8.26" fill="#1f8fcf" />
<rect x="162.00" y="255.58" width="1.25" height="9.02" fill="#1f8fcf" />
<rect x="162.90" y="250.93" width="1.25" height="13.67" fill="#ef8e80" />
<rect x="163.80" y="256.32" width="1.25" height="8.28" fill="#1f8fcf" />
<rect x="164.70" y="256.42" width="1.25" height="8.18" fill="#1f8fcf" />
<rect x="165.60" y="256.20" width="1.25" height="8.40" fill="#1f8fcf" />
<rect x="166.50" y="251.44" width="1.25" height="13.16" fill="#ef8e80" />
<rect x="167.40" y="247.29" width="1.25" height="17.31" fill="#e2231a" />
<rect x="168.30" y="246.49" width="1.25" height="18.11" fill="#e2231a" />
<rect x="169.20" y="247.78" width="1.25" height="16.82" fill="#c8161c" />
<rect x="170.10" y="247.01" width="1.25" height="17.59" fill="#c8161c" />
<rect x="171.00" y="247.43" width="1.25" height="17.17" fill="#e2231a" />
<rect x="171.90" y="247.87" width="1.25" height="16.73" fill="#e2231a" />
<rect x="172.80" y="246.53" width="1.25" height="18.07" fill="#e2231a" />
<rect x="173.70" y="246.63" width="1.25" height="17.97" fill="#e2231a" />
<rect x="174.60" y="247.78" width="1.25" height="16.82" fill="#e2231a" />
<rect x="175.50" y="247.05" width="1.25" height="17.55" fill="#c8161c" />
<rect x="176.40" y="246.87" width="1.25" height="17.73" fill="#c8161c" />
<rect x="177.30" y="247.45" width="1.25" height="17.15" fill="#e2231a" />
<rect x="178.20" y="246.53" width="1.25" height="18.07" fill="#c8161c" />
<rect x="179.10" y="247.30" width="1.25" height="17.30" fill="#c8161c" />
<rect x="180.00" y="247.23" width="1.25" height="17.37" fill="#c8161c" />
<rect x="180.90" y="247.92" width="1.25" height="16.68" fill="#e2231a" />
<rect x="181.80" y="247.68" width="1.25" height="16.92" fill="#e2231a" />
<rect x="182.70" y="247.21" width="1.25" height="17.39" fill="#e2231a" />
<rect x="183.60" y="247.15" width="1.25" height="17.45" fill="#e2231a" />
<rect x="184.50" y="255.83" width="1.25" height="8.77" fill="#1f8fcf" />
<rect x="185.40" y="256.41" width="1.25" height="8.19" fill="#1f8fcf" />
<rect x="186.30" y="256.60" width="1.25" height="8.00" fill="#1f8fcf" />
<rect x="187.20" y="255.04" width="1.25" height="9.56" fill="#1f8fcf" />
<rect x="188.10" y="256.71" width="1.25" height="7.89" fill="#1f8fcf" />
<rect x="189.00" y="256.20" width="1.25" height="8.40" fill="#1f8fcf" />
<rect x="189.90" y="257.16" width="1.25" height="7.44" fill="#1f8fcf" />
<rect x="190.80" y="251.98" width="1.25" height="12.62" fill="#ef8e80" />
<rect x="191.70" y="257.41" width="1.25" height="7.19" fill="#1f8fcf" />
<rect x="192.60" y="257.25" width="1.25" height="7.35" fill="#1f8fcf" />
<rect x="193.50" y="257.33" width="1.25" height="7.27" fill="#1f8fcf" />
<rect x="194.40" y="257.33" width="1.00" height="7.27" fill="#1f8fcf" />
<rect x="196.20" y="252.17" width="1.25" height="12.43" fill="#ef8e80" />
<rect x="197.10" y="256.33" width="1.25" height="8.27" fill="#5ab8e8" />
<rect x="198.00" y="257.79" width="1.25" height="6.81" fill="#5ab8e8" />
<rect x="198.90" y="256.58" width="1.25" height="8.02" fill="#1f8fcf" />
<rect x="199.80" y="257.70" width="1.25" height="6.90" fill="#1f8fcf" />
<rect x="200.70" y="256.62" width="1.25" height="7.98" fill="#1f8fcf" />
<rect x="201.60" y="250.56" width="1.25" height="14.04" fill="#ef8e80" />
<rect x="202.50" y="257.57" width="1.25" height="7.03" fill="#1f8fcf" />
<rect x="203.40" y="257.35" width="1.25" height="7.25" fill="#1f8fcf" />
<rect x="204.30" y="256.78" width="1.25" height="7.82" fill="#1f8fcf" />
<rect x="205.20" y="257.70" width="1.25" height="6.90" fill="#1f8fcf" />
<rect x="206.10" y="257.00" width="1.25" height="7.60" fill="#1f8fcf" />
<rect x="207.00" y="256.40" width="1.25" height="8.20" fill="#1f8fcf" />
<rect x="207.90" y="256.92" width="1.25" height="7.68" fill="#1f8fcf" />
<rect x="208.80" y="257.03" width="1.25" height="7.57" fill="#1f8fcf" />
<rect x="209.70" y="255.89" width="1.00" height="8.71" fill="#1f8fcf" />
<rect x="211.50" y="257.57" width="1.25" height="7.03" fill="#5ab8e8" />
<rect x="212.40" y="254.82" width="1.25" height="9.78" fill="#5ab8e8" />
<rect x="213.30" y="257.85" width="1.25" height="6.75" fill="#1d6e95" />
<rect x="214.20" y="252.21" width="1.25" height="12.39" fill="#ef8e80" />
<rect x="215.10" y="257.75" width="1.25" height="6.85" fill="#1d6e95" />
<rect x="216.00" y="255.81" width="1.25" height="8.79" fill="#1f8fcf" />
<rect x="216.90" y="257.23" width="1.25" height="7.37" fill="#1f8fcf" />
<rect x="217.80" y="256.37" width="1.25" height="8.23" fill="#1f8fcf" />
<rect x="218.70" y="254.99" width="1.25" height="9.61" fill="#1f8fcf" />
<rect x="219.60" y="257.75" width="1.25" height="6.85" fill="#1f8fcf" />
<rect x="220.50" y="255.96" width="1.25" height="8.64" fill="#1f8fcf" />
<rect x="221.40" y="250.81" width="1.25" height="13.79" fill="#ef8e80" />
<rect x="222.30" y="257.59" width="1.25" height="7.01" fill="#1f8fcf" />
<rect x="223.20" y="255.20" width="1.25" height="9.40" fill="#1f8fcf" />
<rect x="224.10" y="256.64" width="1.25" height="7.96" fill="#1f8fcf" />
<rect x="225.00" y="255.73" width="1.25" height="8.87" fill="#1f8fcf" />
<rect x="225.90" y="257.31" width="1.25" height="7.29" fill="#1f8fcf" />
<rect x="226.80" y="255.56" width="1.25" height="9.04" fill="#5ab8e8" />
<rect x="227.70" y="256.13" width="1.25" height="8.47" fill="#5ab8e8" />
<rect x="228.60" y="256.72" width="1.25" height="7.88" fill="#5ab8e8" />
<rect x="229.50" y="257.14" width="1.25" height="7.46" fill="#1f8fcf" />
<rect x="230.40" y="256.36" width="1.00" height="8.24" fill="#1f8fcf" />
<rect x="232.20" y="257.33" width="1.25" height="7.27" fill="#1f8fcf" />
<rect x="233.10" y="255.96" width="1.25" height="8.64" fill="#1f8fcf" />
<rect x="234.00" y="256.65" width="1.25" height="7.95" fill="#1f8fcf" />
<rect x="234.90" y="257.38" width="1.25" height="7.22" fill="#1f8fcf" />
<rect x="235.80" y="257.79" width="1.00" height="6.81" fill="#1f8fcf" />
<rect x="18.00" y="284.66" width="1.25" height="4.64" fill="#1b6590" />
<rect x="18.90" y="285.19" width="1.25" height="4.11" fill="#1b6590" />
<rect x="19.80" y="284.59" width="1.25" height="4.71" fill="#1b6590" />
<rect x="20.70" y="284.56" width="1.00" height="4.74" fill="#1b6590" />
<rect x="22.50" y="284.91" width="1.25" height="4.39" fill="#1b6590" />
<rect x="23.40" y="284.68" width="1.25" height="4.62" fill="#1b6590" />
<rect x="24.30" y="284.97" width="1.25" height="4.33" fill="#1b6590" />
<rect x="25.20" y="284.95" width="1.00" height="4.35" fill="#1b6590" />
<rect x="27.00" y="285.19" width="1.25" height="4.11" fill="#1b6590" />
<rect x="27.90" y="285.18" width="1.25" height="4.12" fill="#1b6590" />
<rect x="28.80" y="284.75" width="1.25" height="4.55" fill="#1b6590" />
<rect x="29.70" y="285.23" width="1.25" height="4.07" fill="#1b6590" />
<rect x="30.60" y="284.75" width="1.25" height="4.55" fill="#1b6590" />
<rect x="31.50" y="285.26" width="1.25" height="4.04" fill="#1b6590" />
<rect x="32.40" y="284.49" width="1.00" height="4.81" fill="#7ec4e6" />
<rect x="34.20" y="284.82" width="1.25" height="4.48" fill="#1b6590" />
<rect x="35.10" y="284.64" width="1.25" height="4.66" fill="#1b6590" />
<rect x="36.00" y="284.64" width="1.25" height="4.66" fill="#1b6590" />
<rect x="36.90" y="285.12" width="1.25" height="4.18" fill="#1b6590" />
<rect x="37.80" y="285.21" width="1.25" height="4.09" fill="#1b6590" />
<rect x="38.70" y="285.18" width="1.25" height="4.12" fill="#1b6590" />
<rect x="39.60" y="274.71" width="1.00" height="14.59" fill="#ef8e80" />
<rect x="42.30" y="284.55" width="1.25" height="4.75" fill="#1b6590" />
<rect x="43.20" y="284.90" width="1.00" height="4.40" fill="#2a8fc8" />
<rect x="45.00" y="284.60" width="1.25" height="4.70" fill="#1b6590" />
<rect x="45.90" y="284.75" width="1.25" height="4.55" fill="#1b6590" />
<rect x="46.80" y="284.57" width="1.25" height="4.73" fill="#1b6590" />
<rect x="47.70" y="284.79" width="1.25" height="4.51" fill="#1b6590" />
<rect x="48.60" y="285.18" width="1.25" height="4.12" fill="#1b6590" />
<rect x="49.50" y="284.79" width="1.00" height="4.51" fill="#1b6590" />
<rect x="52.20" y="285.11" width="1.25" height="4.19" fill="#1b6590" />
<rect x="53.10" y="284.90" width="1.25" height="4.40" fill="#1b6590" />
<rect x="54.00" y="285.21" width="1.00" height="4.09" fill="#1b6590" />
<rect x="56.70" y="284.88" width="1.25" height="4.42" fill="#1b6590" />
<rect x="57.60" y="284.83" width="1.25" height="4.47" fill="#1b6590" />
<rect x="58.50" y="284.93" width="1.25" height="4.37" fill="#1b6590" />
<rect x="59.40" y="284.78" width="1.25" height="4.52" fill="#1b6590" />
<rect x="60.30" y="284.99" width="1.25" height="4.31" fill="#1b6590" />
<rect x="61.20" y="285.00" width="1.25" height="4.30" fill="#1b6590" />
<rect x="62.10" y="285.20" width="1.00" height="4.10" fill="#1b6590" />
<rect x="63.90" y="285.14" width="1.25" height="4.16" fill="#1b6590" />
<rect x="64.80" y="284.69" width="1.25" height="4.61" fill="#1b6590" />
<rect x="65.70" y="284.48" width="1.25" height="4.82" fill="#1b6590" />
<rect x="66.60" y="284.52" width="1.25" height="4.78" fill="#1b6590" />
<rect x="67.50" y="284.93" width="1.25" height="4.37" fill="#1b6590" />
<rect x="68.40" y="284.54" width="1.25" height="4.76" fill="#1b6590" />
<rect x="69.30" y="284.88" width="1.00" height="4.42" fill="#1b6590" />
<rect x="71.10" y="284.94" width="1.25" height="4.36" fill="#1b6590" />
<rect x="72.00" y="284.53" width="1.25" height="4.77" fill="#1b6590" />
<rect x="72.90" y="284.52" width="1.25" height="4.78" fill="#1b6590" />
<rect x="73.80" y="285.19" width="1.25" height="4.11" fill="#1b6590" />
<rect x="74.70" y="285.03" width="1.25" height="4.27" fill="#1b6590" />
<rect x="75.60" y="284.76" width="1.25" height="4.54" fill="#1b6590" />
<rect x="76.50" y="275.90" width="1.25" height="13.40" fill="#ef8e80" />
<rect x="77.40" y="284.92" width="1.00" height="4.38" fill="#1b6590" />
<rect x="79.20" y="284.67" width="1.25" height="4.63" fill="#1b6590" />
<rect x="80.10" y="285.04" width="1.25" height="4.26" fill="#1b6590" />
<rect x="81.00" y="285.03" width="1.25" height="4.27" fill="#1b6590" />
<rect x="81.90" y="285.21" width="1.00" height="4.09" fill="#1b6590" />
<rect x="83.70" y="284.66" width="1.25" height="4.64" fill="#1b6590" />
<rect x="84.60" y="284.48" width="1.25" height="4.82" fill="#1b6590" />
<rect x="85.50" y="284.57" width="1.25" height="4.73" fill="#1b6590" />
<rect x="86.40" y="285.14" width="1.25" height="4.16" fill="#1b6590" />
<rect x="87.30" y="284.90" width="1.25" height="4.40" fill="#7ec4e6" />
<rect x="88.20" y="284.83" width="1.25" height="4.47" fill="#2a8fc8" />
<rect x="89.10" y="284.58" width="1.00" height="4.72" fill="#2a8fc8" />
<rect x="90.90" y="284.90" width="1.25" height="4.40" fill="#1b6590" />
<rect x="91.80" y="284.62" width="1.25" height="4.68" fill="#1b6590" />
<rect x="92.70" y="285.08" width="1.00" height="4.22" fill="#1b6590" />
<rect x="94.50" y="285.26" width="1.25" height="4.04" fill="#1b6590" />
<rect x="95.40" y="284.84" width="1.25" height="4.46" fill="#1b6590" />
<rect x="96.30" y="285.14" width="1.00" height="4.16" fill="#1b6590" />
<rect x="99.00" y="285.11" width="1.25" height="4.19" fill="#1b6590" />
<rect x="99.90" y="284.90" width="1.25" height="4.40" fill="#1b6590" />
<rect x="100.80" y="284.64" width="1.25" height="4.66" fill="#1b6590" />
<rect x="101.70" y="285.24" width="1.25" height="4.06" fill="#1b6590" />
<rect x="102.60" y="285.26" width="1.25" height="4.04" fill="#1b6590" />
<rect x="103.50" y="285.00" width="1.00" height="4.30" fill="#1b6590" />
<rect x="106.20" y="284.83" width="1.25" height="4.47" fill="#7ec4e6" />
<rect x="107.10" y="285.02" width="1.00" height="4.28" fill="#1b6590" />
<rect x="108.90" y="284.62" width="1.25" height="4.68" fill="#1b6590" />
<rect x="109.80" y="285.06" width="1.25" height="4.24" fill="#1b6590" />
<rect x="110.70" y="277.59" width="1.25" height="11.71" fill="#ef8e80" />
<rect x="111.60" y="284.73" width="1.25" height="4.57" fill="#1b6590" />
<rect x="112.50" y="284.62" width="1.00" height="4.68" fill="#1b6590" />
<rect x="114.30" y="285.16" width="1.25" height="4.14" fill="#1b6590" />
<rect x="115.20" y="284.63" width="1.25" height="4.67" fill="#1b6590" />
<rect x="116.10" y="284.60" width="1.25" height="4.70" fill="#1b6590" />
<rect x="117.00" y="285.05" width="1.25" height="4.25" fill="#1b6590" />
<rect x="117.90" y="285.26" width="1.25" height="4.04" fill="#1b6590" />
<rect x="118.80" y="284.55" width="1.25" height="4.75" fill="#1b6590" />
<rect x="119.70" y="284.89" width="1.25" height="4.41" fill="#1b6590" />
<rect x="120.60" y="284.52" width="1.00" height="4.78" fill="#1b6590" />
<rect x="122.40" y="284.79" width="1.25" height="4.51" fill="#1b6590" />
<rect x="123.30" y="284.85" width="1.25" height="4.45" fill="#1b6590" />
<rect x="124.20" y="285.12" width="1.25" height="4.18" fill="#1b6590" />
<rect x="125.10" y="284.47" width="1.25" height="4.83" fill="#1b6590" />
<rect x="126.00" y="284.94" width="1.25" height="4.36" fill="#1b6590" />
<rect x="126.90" y="284.90" width="1.00" height="4.40" fill="#1b6590" />
<rect x="128.70" y="284.91" width="1.25" height="4.39" fill="#1b6590" />
<rect x="129.60" y="285.15" width="1.25" height="4.15" fill="#1b6590" />
<rect x="130.50" y="284.85" width="1.25" height="4.45" fill="#1b6590" />
<rect x="131.40" y="284.59" width="1.25" height="4.71" fill="#1b6590" />
<rect x="132.30" y="284.52" width="1.25" height="4.78" fill="#1b6590" />
<rect x="133.20" y="285.25" width="1.00" height="4.05" fill="#1b6590" />
<rect x="135.00" y="284.83" width="1.25" height="4.47" fill="#1b6590" />
<rect x="135.90" y="285.05" width="1.25" height="4.25" fill="#1b6590" />
<rect x="136.80" y="284.54" width="1.25" height="4.76" fill="#1b6590" />
<rect x="137.70" y="272.20" width="1.25" height="17.10" fill="#e3311d" />
<rect x="138.60" y="272.48" width="1.25" height="16.82" fill="#e3311d" />
<rect x="139.50" y="271.65" width="1.25" height="17.65" fill="#c0392b" />
<rect x="140.40" y="273.09" width="1.25" height="16.21" fill="#e3311d" />
<rect x="141.30" y="273.11" width="1.25" height="16.19" fill="#c0392b" />
<rect x="142.20" y="271.90" width="1.25" height="17.40" fill="#e3311d" />
<rect x="143.10" y="272.94" width="1.25" height="16.36" fill="#e3311d" />
<rect x="144.00" y="271.68" width="1.25" height="17.62" fill="#c0392b" />
<rect x="144.90" y="272.71" width="1.25" height="16.59" fill="#e3311d" />
<rect x="145.80" y="273.21" width="1.25" height="16.09" fill="#e3311d" />
<rect x="146.70" y="271.61" width="1.25" height="17.69" fill="#e3311d" />
<rect x="147.60" y="273.02" width="1.25" height="16.28" fill="#e3311d" />
<rect x="148.50" y="273.30" width="1.25" height="16.00" fill="#e3311d" />
<rect x="149.40" y="272.06" width="1.25" height="17.24" fill="#e3311d" />
<rect x="150.30" y="272.27" width="1.25" height="17.03" fill="#e3311d" />
<rect x="151.20" y="273.44" width="1.25" height="15.86" fill="#e3311d" />
<rect x="152.10" y="271.65" width="1.25" height="17.65" fill="#e3311d" />
<rect x="153.00" y="272.95" width="1.25" height="16.35" fill="#e3311d" />
<rect x="153.90" y="272.95" width="1.25" height="16.35" fill="#e3311d" />
<rect x="154.80" y="273.36" width="1.25" height="15.94" fill="#e3311d" />
<rect x="155.70" y="271.65" width="1.25" height="17.65" fill="#e3311d" />
<rect x="156.60" y="271.75" width="1.25" height="17.55" fill="#e3311d" />
<rect x="157.50" y="271.59" width="1.25" height="17.71" fill="#e3311d" />
<rect x="158.40" y="272.24" width="1.25" height="17.06" fill="#e3311d" />
<rect x="159.30" y="273.35" width="1.25" height="15.95" fill="#e3311d" />
<rect x="160.20" y="273.12" width="1.25" height="16.18" fill="#e3311d" />
<rect x="161.10" y="271.91" width="1.25" height="17.39" fill="#e3311d" />
<rect x="162.00" y="273.36" width="1.25" height="15.94" fill="#c0392b" />
<rect x="162.90" y="272.45" width="1.25" height="16.85" fill="#c0392b" />
<rect x="163.80" y="273.25" width="1.25" height="16.05" fill="#e3311d" />
<rect x="164.70" y="271.60" width="1.25" height="17.70" fill="#e3311d" />
<rect x="165.60" y="273.21" width="1.25" height="16.09" fill="#e3311d" />
<rect x="166.50" y="273.21" width="1.25" height="16.09" fill="#e3311d" />
<rect x="167.40" y="284.53" width="1.25" height="4.77" fill="#1b6590" />
<rect x="168.30" y="285.12" width="1.25" height="4.18" fill="#1b6590" />
<rect x="169.20" y="284.47" width="1.25" height="4.83" fill="#1b6590" />
<rect x="170.10" y="285.07" width="1.25" height="4.23" fill="#1b6590" />
<rect x="171.00" y="284.50" width="1.25" height="4.80" fill="#1b6590" />
<rect x="171.90" y="284.70" width="1.25" height="4.60" fill="#1b6590" />
<rect x="172.80" y="285.25" width="1.25" height="4.05" fill="#1b6590" />
<rect x="173.70" y="284.67" width="1.25" height="4.63" fill="#2a8fc8" />
<rect x="174.60" y="284.81" width="1.25" height="4.49" fill="#2a8fc8" />
<rect x="175.50" y="284.84" width="1.25" height="4.46" fill="#1b6590" />
<rect x="176.40" y="284.84" width="1.25" height="4.46" fill="#1b6590" />
<rect x="177.30" y="285.11" width="1.25" height="4.19" fill="#1b6590" />
<rect x="178.20" y="284.52" width="1.25" height="4.78" fill="#1b6590" />
<rect x="179.10" y="285.13" width="1.25" height="4.17" fill="#1b6590" />
<rect x="180.00" y="284.59" width="1.25" height="4.71" fill="#1b6590" />
<rect x="180.90" y="285.06" width="1.25" height="4.24" fill="#1b6590" />
<rect x="181.80" y="285.23" width="1.25" height="4.07" fill="#1b6590" />
<rect x="182.70" y="284.94" width="1.25" height="4.36" fill="#1b6590" />
<rect x="183.60" y="285.18" width="1.25" height="4.12" fill="#1b6590" />
<rect x="184.50" y="275.23" width="1.25" height="14.07" fill="#ef8e80" />
<rect x="185.40" y="284.47" width="1.25" height="4.83" fill="#1b6590" />
<rect x="186.30" y="284.85" width="1.25" height="4.45" fill="#7ec4e6" />
<rect x="187.20" y="285.20" width="1.25" height="4.10" fill="#7ec4e6" />
<rect x="188.10" y="276.54" width="1.25" height="12.76" fill="#ef8e80" />
<rect x="189.00" y="284.92" width="1.25" height="4.38" fill="#1b6590" />
<rect x="189.90" y="284.79" width="1.25" height="4.51" fill="#1b6590" />
<rect x="190.80" y="284.86" width="1.25" height="4.44" fill="#1b6590" />
<rect x="191.70" y="281.91" width="1.25" height="7.39" fill="#5ab0e0" />
<rect x="192.60" y="285.01" width="1.25" height="4.29" fill="#2a8fc8" />
<rect x="193.50" y="284.79" width="1.25" height="4.51" fill="#2a8fc8" />
<rect x="194.40" y="284.52" width="1.00" height="4.78" fill="#1b6590" />
<rect x="196.20" y="284.60" width="1.25" height="4.70" fill="#1b6590" />
<rect x="197.10" y="284.48" width="1.25" height="4.82" fill="#1b6590" />
<rect x="198.00" y="285.17" width="1.25" height="4.13" fill="#1b6590" />
<rect x="198.90" y="284.68" width="1.25" height="4.62" fill="#1b6590" />
<rect x="199.80" y="284.75" width="1.25" height="4.55" fill="#1b6590" />
<rect x="200.70" y="284.49" width="1.25" height="4.81" fill="#1b6590" />
<rect x="201.60" y="284.89" width="1.25" height="4.41" fill="#2a8fc8" />
<rect x="202.50" y="284.57" width="1.25" height="4.73" fill="#1b6590" />
<rect x="203.40" y="284.85" width="1.25" height="4.45" fill="#1b6590" />
<rect x="204.30" y="284.77" width="1.25" height="4.53" fill="#1b6590" />
<rect x="205.20" y="284.93" width="1.25" height="4.37" fill="#1b6590" />
<rect x="206.10" y="271.42" width="1.25" height="17.88" fill="#9e1a1a" />
<rect x="207.00" y="271.29" width="1.25" height="18.01" fill="#c4161c" />
<rect x="207.90" y="271.07" width="1.25" height="18.23" fill="#c4161c" />
<rect x="208.80" y="272.41" width="1.25" height="16.89" fill="#c4161c" />
<rect x="209.70" y="271.24" width="1.00" height="18.06" fill="#c4161c" />
<rect x="211.50" y="271.27" width="1.25" height="18.03" fill="#c4161c" />
<rect x="212.40" y="284.98" width="1.25" height="4.32" fill="#1b6590" />
<rect x="213.30" y="284.86" width="1.25" height="4.44" fill="#1b6590" />
<rect x="214.20" y="284.97" width="1.25" height="4.33" fill="#1b6590" />
<rect x="215.10" y="277.88" width="1.25" height="11.42" fill="#ef8e80" />
<rect x="216.00" y="284.57" width="1.25" height="4.73" fill="#1b6590" />
<rect x="216.90" y="285.15" width="1.25" height="4.15" fill="#1b6590" />
<rect x="217.80" y="284.97" width="1.25" height="4.33" fill="#1b6590" />
<rect x="218.70" y="285.16" width="1.25" height="4.14" fill="#1b6590" />
<rect x="219.60" y="285.01" width="1.25" height="4.29" fill="#1b6590" />
<rect x="220.50" y="285.25" width="1.25" height="4.05" fill="#1b6590" />
<rect x="221.40" y="277.21" width="1.25" height="12.09" fill="#ef8e80" />
<rect x="222.30" y="284.53" width="1.25" height="4.77" fill="#1b6590" />
<rect x="223.20" y="284.68" width="1.25" height="4.62" fill="#1b6590" />
<rect x="224.10" y="284.60" width="1.25" height="4.70" fill="#1b6590" />
<rect x="225.00" y="284.92" width="1.25" height="4.38" fill="#1b6590" />
<rect x="225.90" y="285.17" width="1.25" height="4.13" fill="#1b6590" />
<rect x="226.80" y="284.97" width="1.25" height="4.33" fill="#1b6590" />
<rect x="227.70" y="284.55" width="1.25" height="4.75" fill="#1b6590" />
<rect x="228.60" y="285.12" width="1.25" height="4.18" fill="#1b6590" />
<rect x="229.50" y="284.79" width="1.25" height="4.51" fill="#1b6590" />
<rect x="230.40" y="285.25" width="1.00" height="4.05" fill="#1b6590" />
<rect x="232.20" y="285.26" width="1.25" height="4.04" fill="#1b6590" />
<rect x="233.10" y="285.12" width="1.25" height="4.18" fill="#1b6590" />
<rect x="234.00" y="284.96" width="1.25" height="4.34" fill="#1b6590" />
<rect x="234.90" y="284.92" width="1.25" height="4.38" fill="#1b6590" />
<rect x="235.80" y="284.74" width="1.00" height="4.56" fill="#1b6590" />
<rect x="238.20" y="220.60" width="0.90" height="19.00" fill="#444" />
<rect x="238.20" y="219.40" width="1.90" height="0.80" fill="#444" />
<text x="247.50" y="221.90" font-size="6.0" fill="#231f20" text-anchor="middle" >12</text>
<rect x="238.20" y="229.50" width="1.90" height="0.80" fill="#444" />
<text x="247.50" y="232.00" font-size="6.0" fill="#231f20" text-anchor="middle" >6</text>
<rect x="238.20" y="239.00" width="1.90" height="0.80" fill="#444" />
<text x="247.50" y="241.50" font-size="6.0" fill="#231f20" text-anchor="middle" >0</text>
<rect x="238.20" y="245.80" width="0.90" height="19.00" fill="#444" />
<rect x="238.20" y="244.80" width="1.90" height="0.80" fill="#444" />
<text x="247.50" y="247.30" font-size="6.0" fill="#231f20" text-anchor="middle" >12</text>
<rect x="238.20" y="254.80" width="1.90" height="0.80" fill="#444" />
<text x="247.50" y="257.30" font-size="6.0" fill="#231f20" text-anchor="middle" >6</text>
<rect x="238.20" y="264.20" width="1.90" height="0.80" fill="#444" />
<text x="247.50" y="266.70" font-size="6.0" fill="#231f20" text-anchor="middle" >0</text>
<rect x="238.20" y="270.50" width="0.90" height="18.90" fill="#444" />
<rect x="238.20" y="269.60" width="1.90" height="0.80" fill="#444" />
<text x="247.50" y="272.10" font-size="6.0" fill="#231f20" text-anchor="middle" >14</text>
<rect x="238.20" y="279.40" width="1.90" height="0.80" fill="#444" />
<text x="247.50" y="281.90" font-size="6.0" fill="#231f20" text-anchor="middle" >7</text>
<rect x="238.20" y="288.80" width="1.90" height="0.80" fill="#444" />
<text x="247.50" y="291.30" font-size="6.0" fill="#231f20" text-anchor="middle" >0</text>
<text x="0.00" y="0.00" font-size="9" fill="#231f20" text-anchor="middle" font-style="italic" transform="translate(261.0,229) rotate(-90)" textLength="17" lengthAdjust="spacingAndGlyphs">CRLF2</text>
<text x="0.00" y="0.00" font-size="9" fill="#231f20" text-anchor="middle" font-style="italic" transform="translate(261.0,255) rotate(-90)" textLength="19.3" lengthAdjust="spacingAndGlyphs">CEBPD</text>
<text x="0.00" y="0.00" font-size="9" fill="#231f20" text-anchor="middle" font-style="italic" transform="translate(261.0,281.3) rotate(-90)" textLength="23" lengthAdjust="spacingAndGlyphs">IGF2BP1</text>
<text x="292.50" y="28.50" font-size="6.4" fill="#231f20" >Sex</text>
<rect x="293.00" y="32.30" width="4.50" height="4.40" fill="#17306f" />
<text x="299.10" y="36.60" font-size="6.4" fill="#231f20" >Female</text>
<rect x="293.00" y="39.00" width="4.50" height="4.40" fill="#d62a1e" />
<text x="299.10" y="43.30" font-size="6.4" fill="#231f20" >Male</text>
<text x="292.50" y="52.30" font-size="6.4" fill="#231f20" >Age</text>
<rect x="293.00" y="56.60" width="4.50" height="4.40" fill="#17306f" />
<text x="299.10" y="60.90" font-size="6.4" fill="#231f20" >Below 10 years</text>
<rect x="293.00" y="63.10" width="4.50" height="4.40" fill="#d62a1e" />
<text x="299.10" y="67.40" font-size="6.4" fill="#231f20" >Above 10 years</text>
<text x="352.00" y="28.40" font-size="6.4" fill="#231f20" >Subtype</text>
<rect x="352.30" y="30.90" width="4.50" height="4.40" fill="#2b67b5" />
<text x="358.80" y="35.30" font-size="6.4" fill="#231f20" ><tspan font-style="italic">CRLF2-r</tspan> (N = 160)</text>
<rect x="352.30" y="37.75" width="4.50" height="4.40" fill="#1f9a45" />
<text x="358.80" y="42.15" font-size="6.4" fill="#231f20" >ETV6::<tspan font-style="italic">RUNX1</tspan> (N = 32)</text>
<rect x="352.30" y="44.60" width="4.50" height="4.40" fill="#9dc43b" />
<text x="358.80" y="49.00" font-size="6.4" fill="#231f20" ><tspan font-style="italic">ETV6::RUNX1</tspan>-like (N = 9)</text>
<rect x="352.30" y="51.45" width="4.50" height="4.40" fill="#e6261f" />
<text x="358.80" y="55.85" font-size="6.4" fill="#231f20" >C/EBPalt (N = 31)</text>
<rect x="352.30" y="58.30" width="4.50" height="4.40" fill="#8c1b1e" />
<text x="358.80" y="62.70" font-size="6.4" fill="#231f20" >High hyperdiploid (N = 13)</text>
<rect x="352.30" y="65.15" width="4.50" height="4.40" fill="#f4c21c" />
<text x="358.80" y="69.55" font-size="6.4" fill="#231f20" >PAX5alt (N = 8)</text>
<rect x="352.30" y="72.00" width="4.50" height="4.40" fill="#2ea449" />
<text x="358.80" y="76.40" font-size="6.4" fill="#231f20" ><tspan font-style="italic">IGH::IGF2BP1</tspan> (N = 8)</text>
<rect x="442.50" y="30.90" width="4.50" height="4.40" fill="#e8742b" />
<text x="449.00" y="35.30" font-size="6.4" fill="#231f20" ><tspan font-style="italic">TCF3::PBX1</tspan> (N = 4)</text>
<rect x="442.50" y="37.75" width="4.50" height="4.40" fill="#4f9fdf" />
<text x="449.00" y="42.15" font-size="6.4" fill="#231f20" ><tspan font-style="italic">BCR::ABL1</tspan>-like (N = 4)</text>
<rect x="442.50" y="44.60" width="4.50" height="4.40" fill="#3b2383" />
<text x="449.00" y="49.00" font-size="6.4" fill="#231f20" ><tspan font-style="italic">BCR::ABL1</tspan> (N = 1)</text>
<rect x="442.50" y="51.45" width="4.50" height="4.40" fill="#17a3b5" />
<text x="449.00" y="55.85" font-size="6.4" fill="#231f20" ><tspan font-style="italic">KMT2A-r</tspan> (N = 1)</text>
<rect x="442.50" y="58.30" width="4.50" height="4.40" fill="#b9c6ea" />
<text x="449.00" y="62.70" font-size="6.4" fill="#231f20" ><tspan font-style="italic">DUX4-r</tspan> (N = 1)</text>
<rect x="442.50" y="65.15" width="4.50" height="4.40" fill="#f0a72f" />
<text x="449.00" y="69.55" font-size="6.4" fill="#231f20" ><tspan font-style="italic">PAX5</tspan> P80R (N = 1)</text>
<rect x="442.50" y="72.00" width="4.50" height="4.40" fill="#8a6417" />
<text x="449.00" y="76.40" font-size="6.4" fill="#231f20" ><tspan font-style="italic">IKZF1</tspan> N159Y (N = 1)</text>
<rect x="442.50" y="78.85" width="4.50" height="4.40" fill="#dcdcdc" />
<text x="449.00" y="83.25" font-size="6.4" fill="#231f20" >B-other (N = 21)</text>
<text x="312.00" y="138.60" font-size="11" fill="#111" font-weight="bold" >B</text>
<rect x="340.3" y="144.5" width="147.89999999999998" height="125.30000000000001" fill="none" stroke="#111" stroke-width="1.1"/>
<rect x="357.95" y="269.80" width="0.90" height="2.60" fill="#222" />
<text x="358.40" y="282.00" font-size="6.6" fill="#333" text-anchor="middle" >−20</text>
<rect x="384.55" y="269.80" width="0.90" height="2.60" fill="#222" />
<text x="385.00" y="282.00" font-size="6.6" fill="#333" text-anchor="middle" >−10</text>
<rect x="411.15" y="269.80" width="0.90" height="2.60" fill="#222" />
<text x="411.60" y="282.00" font-size="6.6" fill="#333" text-anchor="middle" >0</text>
<rect x="437.75" y="269.80" width="0.90" height="2.60" fill="#222" />
<text x="438.20" y="282.00" font-size="6.6" fill="#333" text-anchor="middle" >10</text>
<rect x="464.35" y="269.80" width="0.90" height="2.60" fill="#222" />
<text x="464.80" y="282.00" font-size="6.6" fill="#333" text-anchor="middle" >20</text>
<rect x="337.50" y="149.15" width="2.80" height="0.90" fill="#222" />
<text x="334.50" y="151.90" font-size="6.6" fill="#333" text-anchor="end" >20</text>
<rect x="337.50" y="180.15" width="2.80" height="0.90" fill="#222" />
<text x="334.50" y="182.90" font-size="6.6" fill="#333" text-anchor="end" >10</text>
<rect x="337.50" y="211.15" width="2.80" height="0.90" fill="#222" />
<text x="334.50" y="213.90" font-size="6.6" fill="#333" text-anchor="end" >0</text>
<rect x="337.50" y="242.15" width="2.80" height="0.90" fill="#222" />
<text x="334.50" y="244.90" font-size="6.6" fill="#333" text-anchor="end" >−10</text>
<text x="414.50" y="293.50" font-size="7" fill="#333" text-anchor="middle" >UMAP_1</text>
<text x="0.00" y="0.00" font-size="7" fill="#333" text-anchor="middle" transform="translate(317.2,207) rotate(-90)" textLength="26" lengthAdjust="spacingAndGlyphs">UMAP_2</text>
<circle cx="410.8" cy="149.2" r="1.35" fill="#2a63b6"/>
<circle cx="409.2" cy="150.8" r="1.35" fill="#2a63b6"/>
<circle cx="411.5" cy="152.0" r="1.35" fill="#2a63b6"/>
<circle cx="407.7" cy="153.1" r="1.35" fill="#2a63b6"/>
<circle cx="409.7" cy="154.6" r="1.35" fill="#2a63b6"/>
<circle cx="406.9" cy="156.2" r="1.35" fill="#2a63b6"/>
<circle cx="414.6" cy="155.4" r="1.35" fill="#2a63b6"/>
<circle cx="416.2" cy="156.2" r="1.35" fill="#2a63b6"/>
<circle cx="420.8" cy="158.5" r="1.35" fill="#2a63b6"/>
<circle cx="423.1" cy="159.7" r="1.35" fill="#2a63b6"/>
<circle cx="406.2" cy="158.5" r="1.35" fill="#2a63b6"/>
<circle cx="406.9" cy="161.5" r="1.35" fill="#2a63b6"/>
<circle cx="411.5" cy="161.5" r="1.35" fill="#2a63b6"/>
<circle cx="414.6" cy="163.1" r="1.35" fill="#2a63b6"/>
<circle cx="394.6" cy="163.1" r="1.35" fill="#2a63b6"/>
<circle cx="397.7" cy="163.8" r="1.35" fill="#2a63b6"/>
<circle cx="402.3" cy="163.8" r="1.35" fill="#2a63b6"/>
<circle cx="406.2" cy="164.6" r="1.35" fill="#2a63b6"/>
<circle cx="417.7" cy="164.6" r="1.35" fill="#2a63b6"/>
<circle cx="422.3" cy="165.4" r="1.35" fill="#2a63b6"/>
<circle cx="390.0" cy="166.9" r="1.35" fill="#2a63b6"/>
<circle cx="393.1" cy="167.7" r="1.35" fill="#2a63b6"/>
<circle cx="386.2" cy="168.5" r="1.35" fill="#2a63b6"/>
<circle cx="390.8" cy="169.2" r="1.35" fill="#2a63b6"/>
<circle cx="394.6" cy="170.0" r="1.35" fill="#2a63b6"/>
<circle cx="406.9" cy="167.7" r="1.35" fill="#2a63b6"/>
<circle cx="411.5" cy="168.5" r="1.35" fill="#2a63b6"/>
<circle cx="415.4" cy="168.9" r="1.35" fill="#2a63b6"/>
<circle cx="420.8" cy="167.4" r="1.35" fill="#2a63b6"/>
<circle cx="427.7" cy="166.9" r="1.35" fill="#2a63b6"/>
<circle cx="428.5" cy="169.2" r="1.35" fill="#2a63b6"/>
<circle cx="393.1" cy="171.5" r="1.35" fill="#2a63b6"/>
<circle cx="406.9" cy="172.3" r="1.35" fill="#2a63b6"/>
<circle cx="420.0" cy="171.5" r="1.35" fill="#2a63b6"/>
<circle cx="424.6" cy="172.3" r="1.35" fill="#2a63b6"/>
<circle cx="427.7" cy="173.1" r="1.35" fill="#2a63b6"/>
<circle cx="433.1" cy="170.0" r="1.35" fill="#2a63b6"/>
<circle cx="436.2" cy="171.5" r="1.35" fill="#2a63b6"/>
<circle cx="438.5" cy="172.6" r="1.35" fill="#2a63b6"/>
<circle cx="433.8" cy="173.1" r="1.35" fill="#2a63b6"/>
<circle cx="434.6" cy="176.2" r="1.35" fill="#2a63b6"/>
<circle cx="437.7" cy="176.9" r="1.35" fill="#2a63b6"/>
<circle cx="440.8" cy="177.7" r="1.35" fill="#2a63b6"/>
<circle cx="436.9" cy="179.2" r="1.35" fill="#2a63b6"/>
<circle cx="400.8" cy="176.2" r="1.35" fill="#2a63b6"/>
<circle cx="402.3" cy="177.7" r="1.35" fill="#2a63b6"/>
<circle cx="396.9" cy="178.5" r="1.35" fill="#2a63b6"/>
<circle cx="400.0" cy="180.0" r="1.35" fill="#2a63b6"/>
<circle cx="405.4" cy="179.2" r="1.35" fill="#2a63b6"/>
<circle cx="395.4" cy="180.3" r="1.35" fill="#2a63b6"/>
<circle cx="423.1" cy="179.2" r="1.35" fill="#2a63b6"/>
<circle cx="423.8" cy="180.3" r="1.35" fill="#2a63b6"/>
<circle cx="413.1" cy="181.5" r="1.35" fill="#2a63b6"/>
<circle cx="409.2" cy="182.3" r="1.35" fill="#2a63b6"/>
<circle cx="398.5" cy="183.8" r="1.35" fill="#2a63b6"/>
<circle cx="405.4" cy="184.6" r="1.35" fill="#2a63b6"/>
<circle cx="413.8" cy="186.2" r="1.35" fill="#2a63b6"/>
<circle cx="420.8" cy="184.6" r="1.35" fill="#2a63b6"/>
<circle cx="426.2" cy="185.4" r="1.35" fill="#2a63b6"/>
<circle cx="430.0" cy="183.8" r="1.35" fill="#2a63b6"/>
<circle cx="433.1" cy="186.2" r="1.35" fill="#2a63b6"/>
<circle cx="397.7" cy="186.2" r="1.35" fill="#2a63b6"/>
<circle cx="409.2" cy="188.5" r="1.35" fill="#2a63b6"/>
<circle cx="416.2" cy="189.2" r="1.35" fill="#2a63b6"/>
<circle cx="420.8" cy="187.7" r="1.35" fill="#2a63b6"/>
<circle cx="423.1" cy="188.9" r="1.35" fill="#2a63b6"/>
<circle cx="429.2" cy="188.5" r="1.35" fill="#2a63b6"/>
<circle cx="429.2" cy="190.8" r="1.35" fill="#2a63b6"/>
<circle cx="439.2" cy="187.7" r="1.35" fill="#2a63b6"/>
<circle cx="441.5" cy="189.2" r="1.35" fill="#2a63b6"/>
<circle cx="442.3" cy="192.3" r="1.35" fill="#2a63b6"/>
<circle cx="415.4" cy="191.5" r="1.35" fill="#2a63b6"/>
<circle cx="419.2" cy="193.1" r="1.35" fill="#2a63b6"/>
<circle cx="422.3" cy="193.8" r="1.35" fill="#2a63b6"/>
<circle cx="421.5" cy="195.4" r="1.35" fill="#2a63b6"/>
<circle cx="438.5" cy="200.9" r="1.35" fill="#2a63b6"/>
<circle cx="443.8" cy="205.5" r="1.35" fill="#2a63b6"/>
<circle cx="450.8" cy="205.5" r="1.35" fill="#2a63b6"/>
<circle cx="447.7" cy="210.2" r="1.35" fill="#2a63b6"/>
<circle cx="451.5" cy="209.8" r="1.35" fill="#2a63b6"/>
<circle cx="454.6" cy="211.7" r="1.35" fill="#2a63b6"/>
<circle cx="446.7" cy="210.4" r="1.35" fill="#2a63b6"/>
<circle cx="449.3" cy="215.6" r="1.35" fill="#2a63b6"/>
<circle cx="454.5" cy="213.0" r="1.35" fill="#2a63b6"/>
<circle cx="456.2" cy="216.4" r="1.35" fill="#2a63b6"/>
<circle cx="451.9" cy="226.0" r="1.35" fill="#2a63b6"/>
<circle cx="454.5" cy="227.7" r="1.35" fill="#2a63b6"/>
<circle cx="457.0" cy="226.5" r="1.35" fill="#2a63b6"/>
<circle cx="377.7" cy="176.9" r="1.35" fill="#2a63b6"/>
<circle cx="380.8" cy="178.5" r="1.35" fill="#2a63b6"/>
<circle cx="379.2" cy="180.8" r="1.35" fill="#2a63b6"/>
<circle cx="382.5" cy="177.5" r="1.35" fill="#2a63b6"/>
<circle cx="369.3" cy="189.3" r="1.35" fill="#2a63b6"/>
<circle cx="370.2" cy="191.5" r="1.35" fill="#2a63b6"/>
<circle cx="369.1" cy="193.2" r="1.35" fill="#2a63b6"/>
<circle cx="353.1" cy="240.8" r="1.35" fill="#2a63b6"/>
<circle cx="365.4" cy="244.6" r="1.35" fill="#2a63b6"/>
<circle cx="372.3" cy="245.8" r="1.35" fill="#2a63b6"/>
<circle cx="360.0" cy="249.2" r="1.35" fill="#2a63b6"/>
<circle cx="363.0" cy="253.0" r="1.35" fill="#2a63b6"/>
<circle cx="362.3" cy="256.2" r="1.35" fill="#2a63b6"/>
<circle cx="385.4" cy="249.2" r="1.35" fill="#2a63b6"/>
<circle cx="392.3" cy="240.3" r="1.35" fill="#2a63b6"/>
<circle cx="399.2" cy="243.0" r="1.35" fill="#2a63b6"/>
<circle cx="364.5" cy="247.5" r="1.35" fill="#2a63b6"/>
<circle cx="352.7" cy="241.0" r="1.35" fill="#2a63b6"/>
<circle cx="348.6" cy="247.3" r="1.35" fill="#2a63b6"/>
<circle cx="351.5" cy="246.7" r="1.35" fill="#2a63b6"/>
<circle cx="346.9" cy="249.0" r="1.35" fill="#2a63b6"/>
<circle cx="350.2" cy="250.2" r="1.35" fill="#2a63b6"/>
<circle cx="353.8" cy="249.6" r="1.35" fill="#2a63b6"/>
<circle cx="345.8" cy="252.5" r="1.35" fill="#2a63b6"/>
<circle cx="348.6" cy="253.1" r="1.35" fill="#2a63b6"/>
<circle cx="352.1" cy="252.5" r="1.35" fill="#2a63b6"/>
<circle cx="356.1" cy="251.9" r="1.35" fill="#2a63b6"/>
<circle cx="346.9" cy="256.0" r="1.35" fill="#2a63b6"/>
<circle cx="349.8" cy="254.8" r="1.35" fill="#2a63b6"/>
<circle cx="352.7" cy="256.0" r="1.35" fill="#2a63b6"/>
<circle cx="355.0" cy="257.1" r="1.35" fill="#2a63b6"/>
<circle cx="351.5" cy="258.8" r="1.35" fill="#2a63b6"/>
<circle cx="353.8" cy="260.6" r="1.35" fill="#2a63b6"/>
<circle cx="356.1" cy="262.3" r="1.35" fill="#2a63b6"/>
<circle cx="352.7" cy="263.2" r="1.35" fill="#2a63b6"/>
<circle cx="355.6" cy="264.6" r="1.35" fill="#2a63b6"/>
<circle cx="357.3" cy="265.2" r="1.35" fill="#2a63b6"/>
<circle cx="359.0" cy="248.5" r="1.35" fill="#2a63b6"/>
<circle cx="364.2" cy="244.4" r="1.35" fill="#2a63b6"/>
<circle cx="364.8" cy="248.5" r="1.35" fill="#2a63b6"/>
<circle cx="362.5" cy="251.9" r="1.35" fill="#2a63b6"/>
<circle cx="361.3" cy="256.0" r="1.35" fill="#2a63b6"/>
<circle cx="366.5" cy="249.0" r="1.35" fill="#2a63b6"/>
<circle cx="371.7" cy="246.1" r="1.35" fill="#2a63b6"/>
<circle cx="348.0" cy="258.5" r="1.35" fill="#2a63b6"/>
<circle cx="350.0" cy="261.0" r="1.35" fill="#2a63b6"/>
<circle cx="347.5" cy="244.5" r="1.35" fill="#2a63b6"/>
<circle cx="344.8" cy="250.6" r="1.35" fill="#2a63b6"/>
<circle cx="349.2" cy="243.6" r="1.35" fill="#2a63b6"/>
<circle cx="354.5" cy="245.5" r="1.35" fill="#2a63b6"/>
<circle cx="357.5" cy="254.5" r="1.35" fill="#2a63b6"/>
<circle cx="358.5" cy="259.5" r="1.35" fill="#2a63b6"/>
<circle cx="354.2" cy="253.8" r="1.35" fill="#2a63b6"/>
<circle cx="347.8" cy="251.2" r="1.35" fill="#2a63b6"/>
<circle cx="350.5" cy="248.4" r="1.35" fill="#2a63b6"/>
<circle cx="369.2" cy="184.8" r="1.35" fill="#e0201c"/>
<circle cx="371.5" cy="184.0" r="1.35" fill="#e0201c"/>
<circle cx="373.8" cy="183.2" r="1.35" fill="#e0201c"/>
<circle cx="376.2" cy="184.3" r="1.35" fill="#e0201c"/>
<circle cx="370.0" cy="187.0" r="1.35" fill="#e0201c"/>
<circle cx="373.0" cy="186.8" r="1.35" fill="#e0201c"/>
<circle cx="371.5" cy="191.7" r="1.35" fill="#e0201c"/>
<circle cx="375.4" cy="190.9" r="1.35" fill="#e0201c"/>
<circle cx="376.9" cy="193.2" r="1.35" fill="#e0201c"/>
<circle cx="372.3" cy="194.0" r="1.35" fill="#e0201c"/>
<circle cx="380.8" cy="193.2" r="1.35" fill="#e0201c"/>
<circle cx="384.6" cy="188.6" r="1.35" fill="#e0201c"/>
<circle cx="388.5" cy="188.9" r="1.35" fill="#e0201c"/>
<circle cx="373.8" cy="197.0" r="1.35" fill="#e0201c"/>
<circle cx="370.0" cy="202.5" r="1.35" fill="#e0201c"/>
<circle cx="374.6" cy="204.0" r="1.35" fill="#e0201c"/>
<circle cx="370.8" cy="207.0" r="1.35" fill="#e0201c"/>
<circle cx="368.5" cy="211.7" r="1.35" fill="#e0201c"/>
<circle cx="370.5" cy="211.5" r="1.35" fill="#e0201c"/>
<circle cx="369.2" cy="214.6" r="1.35" fill="#e0201c"/>
<circle cx="367.7" cy="218.5" r="1.35" fill="#e0201c"/>
<circle cx="370.5" cy="219.0" r="1.35" fill="#e0201c"/>
<circle cx="370.0" cy="223.8" r="1.35" fill="#e0201c"/>
<circle cx="380.8" cy="223.8" r="1.35" fill="#e0201c"/>
<circle cx="372.3" cy="234.6" r="1.35" fill="#e0201c"/>
<circle cx="373.1" cy="236.9" r="1.35" fill="#e0201c"/>
<circle cx="384.6" cy="235.7" r="1.35" fill="#e0201c"/>
<circle cx="369.5" cy="203.1" r="1.35" fill="#e0201c"/>
<circle cx="374.6" cy="203.8" r="1.35" fill="#e0201c"/>
<circle cx="368.7" cy="192.5" r="1.35" fill="#e0201c"/>
<circle cx="370.3" cy="196.0" r="1.35" fill="#e0201c"/>
<circle cx="372.0" cy="183.4" r="1.35" fill="#e0201c"/>
<circle cx="375.0" cy="185.6" r="1.35" fill="#e0201c"/>
<circle cx="370.6" cy="185.8" r="1.35" fill="#e0201c"/>
<circle cx="377.6" cy="184.0" r="1.35" fill="#e0201c"/>
<circle cx="374.2" cy="187.8" r="1.35" fill="#e0201c"/>
<circle cx="376.8" cy="189.5" r="1.35" fill="#e0201c"/>
<circle cx="403.1" cy="199.0" r="1.35" fill="#8c2a1e"/>
<circle cx="400.8" cy="206.3" r="1.35" fill="#8c2a1e"/>
<circle cx="403.1" cy="207.7" r="1.35" fill="#8c2a1e"/>
<circle cx="401.5" cy="209.0" r="1.35" fill="#8c2a1e"/>
<circle cx="400.8" cy="216.2" r="1.35" fill="#8c2a1e"/>
<circle cx="402.3" cy="218.5" r="1.35" fill="#8c2a1e"/>
<circle cx="401.5" cy="211.0" r="1.35" fill="#8c2a1e"/>
<circle cx="390.0" cy="241.8" r="1.35" fill="#f2c020"/>
<circle cx="394.5" cy="241.3" r="1.35" fill="#f2c020"/>
<circle cx="396.2" cy="246.2" r="1.35" fill="#f2c020"/>
<circle cx="399.0" cy="246.0" r="1.35" fill="#f2c020"/>
<circle cx="397.7" cy="248.5" r="1.35" fill="#f2c020"/>
<circle cx="390.0" cy="250.8" r="1.35" fill="#f2c020"/>
<circle cx="386.2" cy="250.8" r="1.35" fill="#f2c020"/>
<circle cx="394.0" cy="244.5" r="1.35" fill="#f2c020"/>
<circle cx="391.5" cy="176.6" r="1.35" fill="#2ea449"/>
<circle cx="396.2" cy="177.7" r="1.35" fill="#2ea449"/>
<circle cx="443.8" cy="197.7" r="1.35" fill="#2ea449"/>
<circle cx="459.7" cy="226.8" r="1.35" fill="#2ea449"/>
<circle cx="461.5" cy="226.0" r="1.35" fill="#2ea449"/>
<circle cx="459.7" cy="233.7" r="1.35" fill="#a6c43a"/>
<circle cx="461.4" cy="236.3" r="1.35" fill="#a6c43a"/>
<circle cx="463.5" cy="237.0" r="1.35" fill="#a6c43a"/>
<circle cx="467.5" cy="239.8" r="1.35" fill="#a6c43a"/>
<circle cx="465.5" cy="242.0" r="1.35" fill="#a6c43a"/>
<circle cx="462.0" cy="239.0" r="1.35" fill="#a6c43a"/>
<circle cx="460.5" cy="231.5" r="1.35" fill="#a6c43a"/>
<circle cx="470.0" cy="241.5" r="1.35" fill="#a6c43a"/>
<circle cx="466.0" cy="246.9" r="1.35" fill="#178a3c"/>
<circle cx="475.8" cy="245.3" r="1.35" fill="#178a3c"/>
<circle cx="467.8" cy="241.9" r="1.35" fill="#178a3c"/>
<circle cx="477.3" cy="248.1" r="1.35" fill="#178a3c"/>
<circle cx="468.7" cy="243.4" r="1.35" fill="#178a3c"/>
<circle cx="463.2" cy="250.6" r="1.35" fill="#178a3c"/>
<circle cx="466.6" cy="249.4" r="1.35" fill="#178a3c"/>
<circle cx="481.4" cy="247.6" r="1.35" fill="#178a3c"/>
<circle cx="471.7" cy="256.9" r="1.35" fill="#178a3c"/>
<circle cx="471.1" cy="250.9" r="1.35" fill="#178a3c"/>
<circle cx="466.5" cy="244.6" r="1.35" fill="#178a3c"/>
<circle cx="464.9" cy="255.5" r="1.35" fill="#178a3c"/>
<circle cx="480.5" cy="247.1" r="1.35" fill="#178a3c"/>
<circle cx="472.0" cy="247.2" r="1.35" fill="#178a3c"/>
<circle cx="483.3" cy="254.7" r="1.35" fill="#178a3c"/>
<circle cx="472.5" cy="256.0" r="1.35" fill="#178a3c"/>
<circle cx="480.7" cy="244.8" r="1.35" fill="#178a3c"/>
<circle cx="477.8" cy="255.4" r="1.35" fill="#178a3c"/>
<circle cx="473.8" cy="256.8" r="1.35" fill="#178a3c"/>
<circle cx="481.1" cy="251.1" r="1.35" fill="#178a3c"/>
<circle cx="471.3" cy="257.6" r="1.35" fill="#178a3c"/>
<circle cx="474.9" cy="254.3" r="1.35" fill="#178a3c"/>
<circle cx="483.1" cy="253.0" r="1.35" fill="#178a3c"/>
<circle cx="473.4" cy="242.2" r="1.35" fill="#178a3c"/>
<circle cx="476.4" cy="253.9" r="1.35" fill="#178a3c"/>
<circle cx="477.8" cy="255.2" r="1.35" fill="#178a3c"/>
<circle cx="478.7" cy="252.9" r="1.35" fill="#178a3c"/>
<circle cx="474.8" cy="255.6" r="1.35" fill="#178a3c"/>
<circle cx="469.5" cy="244.4" r="1.35" fill="#178a3c"/>
<circle cx="467.3" cy="251.9" r="1.35" fill="#178a3c"/>
<circle cx="464.5" cy="248.3" r="1.35" fill="#178a3c"/>
<circle cx="472.5" cy="253.6" r="1.35" fill="#178a3c"/>
<circle cx="467.1" cy="251.6" r="1.35" fill="#178a3c"/>
<circle cx="474.2" cy="247.0" r="1.35" fill="#178a3c"/>
<circle cx="474.4" cy="249.8" r="1.35" fill="#178a3c"/>
<circle cx="466.8" cy="248.8" r="1.35" fill="#178a3c"/>
<circle cx="469.5" cy="260.7" r="1.35" fill="#178a3c"/>
<circle cx="472.2" cy="246.4" r="1.35" fill="#178a3c"/>
<circle cx="465.3" cy="251.1" r="1.35" fill="#178a3c"/>
<circle cx="476.5" cy="251.5" r="1.35" fill="#178a3c"/>
<circle cx="466.3" cy="244.9" r="1.35" fill="#178a3c"/>
<circle cx="466.9" cy="252.5" r="1.35" fill="#178a3c"/>
<circle cx="468.1" cy="250.5" r="1.35" fill="#178a3c"/>
<circle cx="480.8" cy="242.9" r="1.35" fill="#178a3c"/>
<circle cx="472.0" cy="251.0" r="1.35" fill="#178a3c"/>
<circle cx="466.0" cy="257.0" r="1.35" fill="#178a3c"/>
<circle cx="472.0" cy="254.1" r="1.35" fill="#178a3c"/>
<circle cx="477.0" cy="259.7" r="1.35" fill="#178a3c"/>
<circle cx="469.5" cy="246.5" r="1.35" fill="#178a3c"/>
<circle cx="467.0" cy="243.8" r="1.35" fill="#178a3c"/>
<circle cx="482.9" cy="248.6" r="1.35" fill="#178a3c"/>
<circle cx="464.9" cy="255.0" r="1.35" fill="#178a3c"/>
<circle cx="466.0" cy="246.5" r="1.35" fill="#178a3c"/>
<circle cx="468.5" cy="244.5" r="1.35" fill="#178a3c"/>
<circle cx="470.5" cy="243.0" r="1.35" fill="#178a3c"/>
<circle cx="464.5" cy="249.0" r="1.35" fill="#178a3c"/>
<circle cx="455.4" cy="220.8" r="1.35" fill="#7a4a14"/>
<circle cx="473.5" cy="238.0" r="1.35" fill="#7a4a14"/>
<circle cx="440.7" cy="212.5" r="1.6" fill="#e8742b"/>
<circle cx="363.5" cy="249.5" r="1.35" fill="#4f9fdf"/>
<circle cx="367.0" cy="257.5" r="1.35" fill="#3b2383"/>
<text x="432.00" y="167.60" font-size="6.4" fill="#4a78b8" textLength="22.3" lengthAdjust="spacingAndGlyphs">CRLF2-r</text>
<text x="355.10" y="179.20" font-size="6.4" fill="#b3c0dc" textLength="19" lengthAdjust="spacingAndGlyphs">DUX4-r</text>
<text x="346.00" y="200.40" font-size="6.4" fill="#d8403a" >C/EBPalt</text>
<text x="380.30" y="214.50" font-size="6.4" fill="#9a4034" >High hyperdiploid</text>
<text x="415.40" y="220.70" font-size="6.4" fill="#e98a4c" font-style="italic" textLength="32" lengthAdjust="spacingAndGlyphs">TCF3::PBX1</text>
<text x="446.70" y="225.20" font-size="6.4" fill="#4aa55c" font-style="italic" >IGH::IGF2BP1</text>
<text x="345.40" y="236.00" font-size="6.4" fill="#e2e2e2" >B-other</text>
<text x="412.00" y="243.70" font-size="6.4" fill="#bcc848" font-style="italic" >ETV6::RUNX1-like</text>
<text x="401.50" y="251.20" font-size="6.4" fill="#efc23a" >PAX5alt</text>
<text x="365.40" y="256.80" font-size="6.4" fill="#7ea9d9" font-style="italic" >BCR::ABL1-like</text>
<text x="366.00" y="263.70" font-size="6.4" fill="#6a4d99" font-style="italic" >BCR::ABL1</text>
<text x="428.50" y="264.50" font-size="6.4" fill="#3a9a5a" font-style="italic" >ETV6::RUNX1</text>
<text x="6.80" y="327.40" font-size="11.5" fill="#111" font-weight="bold" >C</text>
<rect x="63.20" y="359.70" width="283.00" height="5.20" fill="#ececec" />
<rect x="63.20" y="365.82" width="283.00" height="5.20" fill="#ececec" />
<rect x="63.20" y="371.94" width="283.00" height="5.20" fill="#ececec" />
<rect x="63.20" y="378.06" width="283.00" height="5.20" fill="#ececec" />
<rect x="63.20" y="385.18" width="283.00" height="5.20" fill="#ececec" />
<rect x="63.20" y="391.30" width="283.00" height="5.20" fill="#ececec" />
<rect x="63.20" y="397.42" width="283.00" height="5.20" fill="#ececec" />
<rect x="63.20" y="403.54" width="283.00" height="5.20" fill="#ececec" />
<rect x="63.20" y="409.66" width="283.00" height="5.20" fill="#ececec" />
<rect x="63.20" y="415.78" width="283.00" height="5.20" fill="#ececec" />
<rect x="63.20" y="421.90" width="283.00" height="5.20" fill="#ececec" />
<rect x="63.20" y="429.02" width="283.00" height="5.20" fill="#ececec" />
<rect x="63.20" y="435.14" width="283.00" height="5.20" fill="#ececec" />
<rect x="63.20" y="441.26" width="283.00" height="5.20" fill="#ececec" />
<rect x="63.20" y="448.38" width="283.00" height="5.20" fill="#ececec" />
<rect x="63.20" y="454.50" width="283.00" height="5.20" fill="#ececec" />
<rect x="63.20" y="461.62" width="283.00" height="5.20" fill="#ececec" />
<rect x="63.20" y="467.74" width="283.00" height="5.20" fill="#ececec" />
<rect x="63.20" y="473.86" width="283.00" height="5.20" fill="#ececec" />
<rect x="63.20" y="479.98" width="283.00" height="5.20" fill="#ececec" />
<rect x="63.20" y="486.10" width="283.00" height="5.20" fill="#ececec" />
<rect x="63.20" y="492.22" width="283.00" height="5.20" fill="#ececec" />
<rect x="63.20" y="498.34" width="283.00" height="5.20" fill="#ececec" />
<rect x="63.20" y="505.46" width="283.00" height="5.20" fill="#ececec" />
<rect x="63.20" y="511.58" width="283.00" height="5.20" fill="#ececec" />
<rect x="63.20" y="517.70" width="283.00" height="5.20" fill="#ececec" />
<rect x="63.20" y="523.82" width="283.00" height="5.20" fill="#ececec" />
<rect x="63.20" y="530.94" width="283.00" height="5.20" fill="#ececec" />
<rect x="63.20" y="537.06" width="283.00" height="5.20" fill="#ececec" />
<rect x="63.20" y="543.18" width="283.00" height="5.20" fill="#ececec" />
<rect x="63.20" y="549.30" width="283.00" height="5.20" fill="#ececec" />
<rect x="63.20" y="555.42" width="283.00" height="5.20" fill="#ececec" />
<rect x="63.20" y="561.54" width="283.00" height="5.20" fill="#ececec" />
<rect x="63.20" y="567.66" width="283.00" height="5.20" fill="#ececec" />
<rect x="63.20" y="573.78" width="283.00" height="5.20" fill="#ececec" />
<rect x="63.20" y="383.72" width="283.00" height="1.00" fill="#9a9a9a" />
<rect x="63.20" y="427.56" width="283.00" height="1.00" fill="#9a9a9a" />
<rect x="63.20" y="446.92" width="283.00" height="1.00" fill="#9a9a9a" />
<rect x="63.20" y="460.16" width="283.00" height="1.00" fill="#9a9a9a" />
<rect x="63.20" y="504.00" width="283.00" height="1.00" fill="#9a9a9a" />
<rect x="63.20" y="529.48" width="283.00" height="1.00" fill="#9a9a9a" />
<rect x="351.30" y="359.70" width="41.70" height="5.20" fill="#ececec" />
<rect x="351.30" y="365.82" width="41.70" height="5.20" fill="#ececec" />
<rect x="351.30" y="371.94" width="41.70" height="5.20" fill="#ececec" />
<rect x="351.30" y="378.06" width="41.70" height="5.20" fill="#ececec" />
<rect x="351.30" y="385.18" width="41.70" height="5.20" fill="#ececec" />
<rect x="351.30" y="391.30" width="41.70" height="5.20" fill="#ececec" />
<rect x="351.30" y="397.42" width="41.70" height="5.20" fill="#ececec" />
<rect x="351.30" y="403.54" width="41.70" height="5.20" fill="#ececec" />
<rect x="351.30" y="409.66" width="41.70" height="5.20" fill="#ececec" />
<rect x="351.30" y="415.78" width="41.70" height="5.20" fill="#ececec" />
<rect x="351.30" y="421.90" width="41.70" height="5.20" fill="#ececec" />
<rect x="351.30" y="429.02" width="41.70" height="5.20" fill="#ececec" />
<rect x="351.30" y="435.14" width="41.70" height="5.20" fill="#ececec" />
<rect x="351.30" y="441.26" width="41.70" height="5.20" fill="#ececec" />
<rect x="351.30" y="448.38" width="41.70" height="5.20" fill="#ececec" />
<rect x="351.30" y="454.50" width="41.70" height="5.20" fill="#ececec" />
<rect x="351.30" y="461.62" width="41.70" height="5.20" fill="#ececec" />
<rect x="351.30" y="467.74" width="41.70" height="5.20" fill="#ececec" />
<rect x="351.30" y="473.86" width="41.70" height="5.20" fill="#ececec" />
<rect x="351.30" y="479.98" width="41.70" height="5.20" fill="#ececec" />
<rect x="351.30" y="486.10" width="41.70" height="5.20" fill="#ececec" />
<rect x="351.30" y="492.22" width="41.70" height="5.20" fill="#ececec" />
<rect x="351.30" y="498.34" width="41.70" height="5.20" fill="#ececec" />
<rect x="351.30" y="505.46" width="41.70" height="5.20" fill="#ececec" />
<rect x="351.30" y="511.58" width="41.70" height="5.20" fill="#ececec" />
<rect x="351.30" y="517.70" width="41.70" height="5.20" fill="#ececec" />
<rect x="351.30" y="523.82" width="41.70" height="5.20" fill="#ececec" />
<rect x="351.30" y="530.94" width="41.70" height="5.20" fill="#ececec" />
<rect x="351.30" y="537.06" width="41.70" height="5.20" fill="#ececec" />
<rect x="351.30" y="543.18" width="41.70" height="5.20" fill="#ececec" />
<rect x="351.30" y="549.30" width="41.70" height="5.20" fill="#ececec" />
<rect x="351.30" y="555.42" width="41.70" height="5.20" fill="#ececec" />
<rect x="351.30" y="561.54" width="41.70" height="5.20" fill="#ececec" />
<rect x="351.30" y="567.66" width="41.70" height="5.20" fill="#ececec" />
<rect x="351.30" y="573.78" width="41.70" height="5.20" fill="#ececec" />
<rect x="351.30" y="383.72" width="41.70" height="1.00" fill="#b0b0b0" />
<rect x="351.30" y="427.56" width="41.70" height="1.00" fill="#b0b0b0" />
<rect x="351.30" y="446.92" width="41.70" height="1.00" fill="#b0b0b0" />
<rect x="351.30" y="460.16" width="41.70" height="1.00" fill="#b0b0b0" />
<rect x="351.30" y="504.00" width="41.70" height="1.00" fill="#b0b0b0" />
<rect x="351.30" y="529.48" width="41.70" height="1.00" fill="#b0b0b0" />
<rect x="358.05" y="359.30" width="0.40" height="219.84" fill="#f6f6f6" />
<rect x="365.00" y="359.30" width="0.40" height="219.84" fill="#f6f6f6" />
<rect x="371.95" y="359.30" width="0.40" height="219.84" fill="#f6f6f6" />
<rect x="378.90" y="359.30" width="0.40" height="219.84" fill="#f6f6f6" />
<rect x="385.85" y="359.30" width="0.40" height="219.84" fill="#f6f6f6" />
<rect x="351.3" y="359.3" width="41.69999999999999" height="219.8400000000001" fill="none" stroke="#c4c4c4" stroke-width="0.6"/>
<text x="60.00" y="364.50" font-size="6.4" fill="#231f20" text-anchor="end" ><tspan font-style="italic">JAK2</tspan> (64)</text>
<text x="60.00" y="370.62" font-size="6.4" fill="#231f20" text-anchor="end" ><tspan font-style="italic">CRLF2</tspan> (18)</text>
<text x="60.00" y="376.74" font-size="6.4" fill="#231f20" text-anchor="end" ><tspan font-style="italic">SH2B3</tspan> (8)</text>
<text x="60.00" y="382.86" font-size="6.4" fill="#231f20" text-anchor="end" ><tspan font-style="italic">IL7R</tspan> (9)</text>
<text x="60.00" y="389.98" font-size="6.4" fill="#231f20" text-anchor="end" ><tspan font-style="italic">VPREB1</tspan> (67)</text>
<text x="60.00" y="396.10" font-size="6.4" fill="#231f20" text-anchor="end" ><tspan font-style="italic">PAX5</tspan> (60)</text>
<text x="60.00" y="402.22" font-size="6.4" fill="#231f20" text-anchor="end" ><tspan font-style="italic">IKZF1</tspan> (55)</text>
<text x="60.00" y="408.34" font-size="6.4" fill="#231f20" text-anchor="end" ><tspan font-style="italic">EBF1</tspan> (27)</text>
<text x="60.00" y="414.46" font-size="6.4" fill="#231f20" text-anchor="end" ><tspan font-style="italic">BTG1</tspan> (16)</text>
<text x="60.00" y="420.58" font-size="6.4" fill="#231f20" text-anchor="end" ><tspan font-style="italic">BTLA</tspan> (17)</text>
<text x="60.00" y="426.70" font-size="6.4" fill="#231f20" text-anchor="end" ><tspan font-style="italic">RAG2</tspan> (14)</text>
<text x="60.00" y="433.82" font-size="6.4" fill="#231f20" text-anchor="end" ><tspan font-style="italic">KRAS</tspan> (37)</text>
<text x="60.00" y="439.94" font-size="6.4" fill="#231f20" text-anchor="end" ><tspan font-style="italic">NRAS</tspan> (22)</text>
<text x="60.00" y="446.06" font-size="6.4" fill="#231f20" text-anchor="end" ><tspan font-style="italic">PTPN11</tspan> (6)</text>
<text x="60.00" y="453.18" font-size="6.4" fill="#231f20" text-anchor="end" ><tspan font-style="italic">CDKN2A</tspan> (71)</text>
<text x="60.00" y="459.30" font-size="6.4" fill="#231f20" text-anchor="end" ><tspan font-style="italic">SLX4IP</tspan> (21)</text>
<text x="60.00" y="466.42" font-size="6.4" fill="#231f20" text-anchor="end" >6p22.2 (54)</text>
<text x="60.00" y="472.54" font-size="6.4" fill="#231f20" text-anchor="end" ><tspan font-style="italic">SETD2</tspan> (22)</text>
<text x="60.00" y="478.66" font-size="6.4" fill="#231f20" text-anchor="end" >6p22.1 (18)</text>
<text x="60.00" y="484.78" font-size="6.4" fill="#231f20" text-anchor="end" ><tspan font-style="italic">CREBBP</tspan> (18)</text>
<text x="60.00" y="490.90" font-size="6.4" fill="#231f20" text-anchor="end" ><tspan font-style="italic">KDM6A</tspan> (19)</text>
<text x="60.00" y="497.02" font-size="6.4" fill="#231f20" text-anchor="end" ><tspan font-style="italic">CHD2</tspan> (17)</text>
<text x="60.00" y="503.14" font-size="6.4" fill="#231f20" text-anchor="end" ><tspan font-style="italic">DOT1L</tspan> (13)</text>
<text x="60.00" y="510.26" font-size="6.4" fill="#231f20" text-anchor="end" ><tspan font-style="italic">ETV6</tspan> (37)</text>
<text x="60.00" y="516.38" font-size="6.4" fill="#231f20" text-anchor="end" ><tspan font-style="italic">XBP1</tspan> (15)</text>
<text x="60.00" y="522.50" font-size="6.4" fill="#231f20" text-anchor="end" ><tspan font-style="italic">TSC22D1</tspan> (10)</text>
<text x="60.00" y="528.62" font-size="6.4" fill="#231f20" text-anchor="end" ><tspan font-style="italic">ZEB2</tspan> (9)</text>
<text x="60.00" y="535.74" font-size="6.4" fill="#231f20" text-anchor="end" ><tspan font-style="italic">FLT3</tspan> (20)</text>
<text x="60.00" y="541.86" font-size="6.4" fill="#231f20" text-anchor="end" ><tspan font-style="italic">USP9X</tspan> (17)</text>
<text x="60.00" y="547.98" font-size="6.4" fill="#231f20" text-anchor="end" ><tspan font-style="italic">ADD3</tspan> (12)</text>
<text x="60.00" y="554.10" font-size="6.4" fill="#231f20" text-anchor="end" ><tspan font-style="italic">STAG2</tspan> (13)</text>
<text x="60.00" y="560.22" font-size="6.4" fill="#231f20" text-anchor="end" ><tspan font-style="italic">ZNF217</tspan> (8)</text>
<text x="60.00" y="566.34" font-size="6.4" fill="#231f20" text-anchor="end" ><tspan font-style="italic">ARMC2</tspan> (7)</text>
<text x="60.00" y="572.46" font-size="6.4" fill="#231f20" text-anchor="end" ><tspan font-style="italic">GNB1</tspan> (6)</text>
<text x="60.00" y="578.58" font-size="6.4" fill="#231f20" text-anchor="end" ><tspan font-style="italic">EGLN1</tspan> (4)</text>
<rect x="63.40" y="359.70" width="73.10" height="5.20" fill="#1b7fc4" />
<rect x="69.20" y="365.82" width="4.30" height="5.20" fill="#1b7fc4" />
<rect x="137.00" y="365.82" width="12.80" height="5.20" fill="#1b7fc4" />
<rect x="304.90" y="365.82" width="1.30" height="5.20" fill="#1b7fc4" />
<rect x="322.40" y="365.82" width="1.30" height="5.20" fill="#1b7fc4" />
<rect x="73.80" y="371.94" width="1.40" height="5.20" fill="#ec7c26" />
<rect x="75.20" y="371.94" width="1.40" height="5.20" fill="#8b5a3c" />
<rect x="284.70" y="371.94" width="1.30" height="5.20" fill="#1b7fc4" />
<rect x="313.60" y="371.94" width="2.10" height="5.20" fill="#dc3028" />
<rect x="77.20" y="378.06" width="2.00" height="5.20" fill="#1b7fc4" />
<rect x="150.60" y="378.06" width="1.70" height="5.20" fill="#1b7fc4" />
<rect x="306.90" y="378.06" width="2.40" height="5.20" fill="#4a2b8c" />
<rect x="312.30" y="378.06" width="1.10" height="5.20" fill="#8b5a3c" />
<rect x="324.40" y="378.06" width="1.60" height="5.20" fill="#1b7fc4" />
<rect x="69.20" y="385.18" width="3.20" height="5.20" fill="#7dbd56" />
<rect x="77.00" y="385.18" width="1.10" height="5.20" fill="#7dbd56" />
<rect x="79.90" y="385.18" width="16.10" height="5.20" fill="#7dbd56" />
<rect x="137.90" y="385.18" width="5.70" height="5.20" fill="#7dbd56" />
<rect x="150.60" y="385.18" width="16.70" height="5.20" fill="#7dbd56" />
<rect x="210.90" y="385.18" width="13.80" height="5.20" fill="#7dbd56" />
<rect x="245.20" y="385.18" width="2.90" height="5.20" fill="#7dbd56" />
<rect x="254.50" y="385.18" width="2.30" height="5.20" fill="#7dbd56" />
<rect x="285.60" y="385.18" width="3.40" height="5.20" fill="#7dbd56" />
<rect x="305.00" y="385.18" width="1.10" height="5.20" fill="#7dbd56" />
<rect x="311.30" y="385.18" width="2.90" height="5.20" fill="#7dbd56" />
<rect x="316.00" y="385.18" width="1.10" height="5.20" fill="#7dbd56" />
<rect x="325.80" y="385.18" width="1.70" height="5.20" fill="#7dbd56" />
<rect x="78.10" y="391.30" width="1.20" height="5.20" fill="#7dbd56" />
<rect x="81.00" y="391.30" width="1.80" height="5.20" fill="#7dbd56" />
<rect x="82.80" y="391.30" width="1.70" height="5.20" fill="#4f9c45" />
<rect x="97.40" y="391.30" width="2.90" height="5.20" fill="#ec7c26" />
<rect x="100.80" y="391.30" width="2.40" height="5.20" fill="#8b5a3c" />
<rect x="103.50" y="391.30" width="2.20" height="5.20" fill="#1b7fc4" />
<rect x="106.20" y="391.30" width="2.70" height="5.20" fill="#ec7c26" />
<rect x="143.60" y="391.30" width="3.50" height="5.20" fill="#7dbd56" />
<rect x="151.10" y="391.30" width="1.80" height="5.20" fill="#8b5a3c" />
<rect x="155.20" y="391.30" width="1.70" height="5.20" fill="#1b7fc4" />
<rect x="156.90" y="391.30" width="3.50" height="5.20" fill="#4f9c45" />
<rect x="167.90" y="391.30" width="1.40" height="5.20" fill="#ec7c26" />
<rect x="169.30" y="391.30" width="1.40" height="5.20" fill="#8b5a3c" />
<rect x="173.00" y="391.30" width="2.40" height="5.20" fill="#1b7fc4" />
<rect x="176.00" y="391.30" width="1.70" height="5.20" fill="#7dbd56" />
<rect x="212.60" y="391.30" width="7.50" height="5.20" fill="#7dbd56" />
<rect x="225.30" y="391.30" width="6.30" height="5.20" fill="#7dbd56" />
<rect x="248.70" y="391.30" width="1.10" height="5.20" fill="#7dbd56" />
<rect x="254.50" y="391.30" width="1.70" height="5.20" fill="#dc3028" />
<rect x="257.90" y="391.30" width="2.30" height="5.20" fill="#178a9c" />
<rect x="260.20" y="391.30" width="1.80" height="5.20" fill="#dc3028" />
<rect x="286.20" y="391.30" width="1.10" height="5.20" fill="#7dbd56" />
<rect x="306.00" y="391.30" width="1.30" height="5.20" fill="#7dbd56" />
<rect x="317.10" y="391.30" width="1.20" height="5.20" fill="#dc3028" />
<rect x="324.60" y="391.30" width="1.20" height="5.20" fill="#1b7fc4" />
<rect x="69.20" y="397.42" width="1.80" height="5.20" fill="#7dbd56" />
<rect x="73.50" y="397.42" width="2.30" height="5.20" fill="#7dbd56" />
<rect x="80.50" y="397.42" width="2.00" height="5.20" fill="#dc3028" />
<rect x="85.00" y="397.42" width="4.70" height="5.20" fill="#7dbd56" />
<rect x="97.80" y="397.42" width="4.00" height="5.20" fill="#7dbd56" />
<rect x="109.30" y="397.42" width="6.90" height="5.20" fill="#7dbd56" />
<rect x="116.20" y="397.42" width="1.80" height="5.20" fill="#6c7b8b" />
<rect x="139.00" y="397.42" width="2.30" height="5.20" fill="#dc3028" />
<rect x="143.00" y="397.42" width="1.80" height="5.20" fill="#1b7fc4" />
<rect x="150.60" y="397.42" width="2.30" height="5.20" fill="#7dbd56" />
<rect x="154.60" y="397.42" width="1.70" height="5.20" fill="#1b7fc4" />
<rect x="161.00" y="397.42" width="2.30" height="5.20" fill="#1b7fc4" />
<rect x="163.30" y="397.42" width="1.20" height="5.20" fill="#7dbd56" />
<rect x="167.30" y="397.42" width="1.70" height="5.20" fill="#dc3028" />
<rect x="178.20" y="397.42" width="1.00" height="5.20" fill="#6c7b8b" />
<rect x="179.20" y="397.42" width="6.30" height="5.20" fill="#7dbd56" />
<rect x="254.50" y="397.42" width="1.10" height="5.20" fill="#7dbd56" />
<rect x="256.80" y="397.42" width="1.10" height="5.20" fill="#7dbd56" />
<rect x="297.50" y="397.42" width="1.20" height="5.20" fill="#7dbd56" />
<rect x="306.70" y="397.42" width="1.80" height="5.20" fill="#7dbd56" />
<rect x="312.50" y="397.42" width="1.10" height="5.20" fill="#4a2b8c" />
<rect x="313.60" y="397.42" width="3.50" height="5.20" fill="#7dbd56" />
<rect x="322.90" y="397.42" width="1.10" height="5.20" fill="#7dbd56" />
<rect x="324.60" y="397.42" width="3.40" height="5.20" fill="#178a9c" />
<rect x="328.00" y="397.42" width="3.00" height="5.20" fill="#7dbd56" />
<rect x="69.20" y="403.54" width="1.00" height="5.20" fill="#7dbd56" />
<rect x="77.00" y="403.54" width="1.00" height="5.20" fill="#7dbd56" />
<rect x="80.50" y="403.54" width="1.10" height="5.20" fill="#7dbd56" />
<rect x="82.80" y="403.54" width="1.20" height="5.20" fill="#7dbd56" />
<rect x="85.00" y="403.54" width="4.70" height="5.20" fill="#7dbd56" />
<rect x="109.90" y="403.54" width="1.50" height="5.20" fill="#7dbd56" />
<rect x="118.50" y="403.54" width="2.30" height="5.20" fill="#9a6a3a" />
<rect x="139.00" y="403.54" width="2.30" height="5.20" fill="#7dbd56" />
<rect x="143.00" y="403.54" width="1.80" height="5.20" fill="#7dbd56" />
<rect x="150.60" y="403.54" width="1.10" height="5.20" fill="#7dbd56" />
<rect x="154.60" y="403.54" width="1.10" height="5.20" fill="#7dbd56" />
<rect x="161.00" y="403.54" width="2.80" height="5.20" fill="#7dbd56" />
<rect x="168.40" y="403.54" width="1.80" height="5.20" fill="#dc3028" />
<rect x="185.50" y="403.54" width="1.20" height="5.20" fill="#7dbd56" />
<rect x="232.20" y="403.54" width="0.90" height="5.20" fill="#7dbd56" />
<rect x="245.20" y="403.54" width="1.80" height="5.20" fill="#7dbd56" />
<rect x="249.80" y="403.54" width="1.20" height="5.20" fill="#1b7fc4" />
<rect x="314.20" y="403.54" width="1.80" height="5.20" fill="#178a9c" />
<rect x="86.80" y="409.66" width="1.20" height="5.20" fill="#7dbd56" />
<rect x="89.70" y="409.66" width="1.10" height="5.20" fill="#7dbd56" />
<rect x="97.80" y="409.66" width="1.70" height="5.20" fill="#7dbd56" />
<rect x="118.50" y="409.66" width="1.20" height="5.20" fill="#7dbd56" />
<rect x="120.60" y="409.66" width="1.10" height="5.20" fill="#7dbd56" />
<rect x="155.80" y="409.66" width="1.10" height="5.20" fill="#7dbd56" />
<rect x="167.30" y="409.66" width="1.10" height="5.20" fill="#7dbd56" />
<rect x="169.60" y="409.66" width="1.10" height="5.20" fill="#7dbd56" />
<rect x="178.80" y="409.66" width="1.20" height="5.20" fill="#7dbd56" />
<rect x="216.00" y="409.66" width="1.20" height="5.20" fill="#7dbd56" />
<rect x="220.70" y="409.66" width="1.10" height="5.20" fill="#7dbd56" />
<rect x="229.90" y="409.66" width="1.10" height="5.20" fill="#7dbd56" />
<rect x="233.40" y="409.66" width="1.10" height="5.20" fill="#7dbd56" />
<rect x="305.60" y="409.66" width="1.70" height="5.20" fill="#7dbd56" />
<rect x="69.20" y="415.78" width="1.00" height="5.20" fill="#7dbd56" />
<rect x="73.50" y="415.78" width="1.20" height="5.20" fill="#7dbd56" />
<rect x="88.00" y="415.78" width="1.00" height="5.20" fill="#7dbd56" />
<rect x="118.50" y="415.78" width="1.20" height="5.20" fill="#7dbd56" />
<rect x="139.00" y="415.78" width="0.90" height="5.20" fill="#7dbd56" />
<rect x="155.20" y="415.78" width="0.80" height="5.20" fill="#7dbd56" />
<rect x="161.00" y="415.78" width="2.30" height="5.20" fill="#7dbd56" />
<rect x="165.60" y="415.78" width="1.10" height="5.20" fill="#7dbd56" />
<rect x="170.70" y="415.78" width="1.20" height="5.20" fill="#7dbd56" />
<rect x="229.90" y="415.78" width="1.10" height="5.20" fill="#7dbd56" />
<rect x="234.50" y="415.78" width="1.20" height="5.20" fill="#7dbd56" />
<rect x="297.00" y="415.78" width="1.00" height="5.20" fill="#7dbd56" />
<rect x="312.50" y="415.78" width="1.10" height="5.20" fill="#7dbd56" />
<rect x="316.50" y="415.78" width="1.20" height="5.20" fill="#7dbd56" />
<rect x="119.00" y="421.90" width="1.80" height="5.20" fill="#7dbd56" />
<rect x="120.60" y="421.90" width="1.70" height="5.20" fill="#7dbd56" />
<rect x="140.80" y="421.90" width="1.20" height="5.20" fill="#7dbd56" />
<rect x="187.80" y="421.90" width="2.30" height="5.20" fill="#7dbd56" />
<rect x="217.20" y="421.90" width="1.20" height="5.20" fill="#7dbd56" />
<rect x="220.70" y="421.90" width="1.70" height="5.20" fill="#7dbd56" />
<rect x="234.50" y="421.90" width="1.70" height="5.20" fill="#7dbd56" />
<rect x="236.00" y="421.90" width="1.20" height="5.20" fill="#7dbd56" />
<rect x="248.10" y="421.90" width="1.20" height="5.20" fill="#7dbd56" />
<rect x="305.00" y="421.90" width="1.70" height="5.20" fill="#7dbd56" />
<rect x="68.90" y="429.02" width="1.80" height="5.20" fill="#6c7b8b" />
<rect x="97.50" y="429.02" width="1.20" height="5.20" fill="#1b7fc4" />
<rect x="118.00" y="429.02" width="1.10" height="5.20" fill="#1b7fc4" />
<rect x="122.90" y="429.02" width="1.10" height="5.20" fill="#1b7fc4" />
<rect x="154.60" y="429.02" width="1.20" height="5.20" fill="#1b7fc4" />
<rect x="160.40" y="429.02" width="1.10" height="5.20" fill="#178a9c" />
<rect x="165.00" y="429.02" width="2.50" height="5.20" fill="#178a9c" />
<rect x="180.30" y="429.02" width="1.70" height="5.20" fill="#1b7fc4" />
<rect x="190.70" y="429.02" width="4.00" height="5.20" fill="#1b7fc4" />
<rect x="217.20" y="429.02" width="1.20" height="5.20" fill="#1b7fc4" />
<rect x="220.10" y="429.02" width="1.70" height="5.20" fill="#1b7fc4" />
<rect x="223.00" y="429.02" width="2.30" height="5.20" fill="#1b7fc4" />
<rect x="231.00" y="429.02" width="1.00" height="5.20" fill="#1b7fc4" />
<rect x="235.70" y="429.02" width="2.00" height="5.20" fill="#1b7fc4" />
<rect x="247.50" y="429.02" width="1.80" height="5.20" fill="#1b7fc4" />
<rect x="250.40" y="429.02" width="2.30" height="5.20" fill="#1b7fc4" />
<rect x="257.90" y="429.02" width="2.30" height="5.20" fill="#1b7fc4" />
<rect x="262.50" y="429.02" width="4.10" height="5.20" fill="#1b7fc4" />
<rect x="289.00" y="429.02" width="1.20" height="5.20" fill="#1b7fc4" />
<rect x="299.20" y="429.02" width="0.90" height="5.20" fill="#1b7fc4" />
<rect x="305.00" y="429.02" width="2.30" height="5.20" fill="#27396e" />
<rect x="326.90" y="429.02" width="1.20" height="5.20" fill="#1b7fc4" />
<rect x="98.90" y="435.14" width="0.90" height="5.20" fill="#1b7fc4" />
<rect x="111.40" y="435.14" width="1.10" height="5.20" fill="#1b7fc4" />
<rect x="124.00" y="435.14" width="1.20" height="5.20" fill="#1b7fc4" />
<rect x="147.10" y="435.14" width="0.90" height="5.20" fill="#1b7fc4" />
<rect x="170.70" y="435.14" width="1.20" height="5.20" fill="#1b7fc4" />
<rect x="179.70" y="435.14" width="1.20" height="5.20" fill="#1b7fc4" />
<rect x="185.50" y="435.14" width="1.20" height="5.20" fill="#1b7fc4" />
<rect x="190.70" y="435.14" width="1.10" height="5.20" fill="#1b7fc4" />
<rect x="194.70" y="435.14" width="1.20" height="5.20" fill="#1b7fc4" />
<rect x="235.70" y="435.14" width="2.00" height="5.20" fill="#1b7fc4" />
<rect x="255.60" y="435.14" width="1.20" height="5.20" fill="#1b7fc4" />
<rect x="267.10" y="435.14" width="1.80" height="5.20" fill="#1b7fc4" />
<rect x="284.40" y="435.14" width="1.80" height="5.20" fill="#1b7fc4" />
<rect x="290.80" y="435.14" width="2.10" height="5.20" fill="#178a9c" />
<rect x="310.20" y="435.14" width="1.70" height="5.20" fill="#178a9c" />
<rect x="314.80" y="435.14" width="1.20" height="5.20" fill="#1b7fc4" />
<rect x="329.20" y="435.14" width="1.40" height="5.20" fill="#6c7b8b" />
<rect x="144.20" y="441.26" width="1.40" height="5.20" fill="#1b7fc4" />
<rect x="221.80" y="441.26" width="1.20" height="5.20" fill="#1b7fc4" />
<rect x="256.80" y="441.26" width="1.10" height="5.20" fill="#1b7fc4" />
<rect x="269.40" y="441.26" width="1.20" height="5.20" fill="#1b7fc4" />
<rect x="289.00" y="441.26" width="1.00" height="5.20" fill="#1b7fc4" />
<rect x="311.30" y="441.26" width="1.20" height="5.20" fill="#27396e" />
<rect x="68.90" y="448.38" width="3.20" height="5.20" fill="#4f9c45" />
<rect x="72.10" y="448.38" width="1.40" height="5.20" fill="#dc3028" />
<rect x="73.50" y="448.38" width="1.20" height="5.20" fill="#7dbd56" />
<rect x="86.20" y="448.38" width="1.80" height="5.20" fill="#7dbd56" />
<rect x="90.30" y="448.38" width="5.10" height="5.20" fill="#7dbd56" />
<rect x="97.20" y="448.38" width="1.70" height="5.20" fill="#7dbd56" />
<rect x="101.80" y="448.38" width="3.50" height="5.20" fill="#7dbd56" />
<rect x="111.60" y="448.38" width="2.90" height="5.20" fill="#7dbd56" />
<rect x="118.50" y="448.38" width="1.70" height="5.20" fill="#7dbd56" />
<rect x="125.20" y="448.38" width="7.50" height="5.20" fill="#7dbd56" />
<rect x="142.50" y="448.38" width="4.00" height="5.20" fill="#7dbd56" />
<rect x="147.70" y="448.38" width="1.10" height="5.20" fill="#7dbd56" />
<rect x="155.80" y="448.38" width="1.10" height="5.20" fill="#7dbd56" />
<rect x="165.00" y="448.38" width="3.40" height="5.20" fill="#7dbd56" />
<rect x="172.50" y="448.38" width="2.90" height="5.20" fill="#7dbd56" />
<rect x="180.30" y="448.38" width="0.90" height="5.20" fill="#7dbd56" />
<rect x="187.80" y="448.38" width="1.20" height="5.20" fill="#7dbd56" />
<rect x="191.30" y="448.38" width="1.10" height="5.20" fill="#7dbd56" />
<rect x="196.50" y="448.38" width="2.80" height="5.20" fill="#7dbd56" />
<rect x="217.20" y="448.38" width="1.70" height="5.20" fill="#7dbd56" />
<rect x="221.20" y="448.38" width="1.20" height="5.20" fill="#7dbd56" />
<rect x="230.50" y="448.38" width="1.10" height="5.20" fill="#7dbd56" />
<rect x="234.00" y="448.38" width="1.70" height="5.20" fill="#7dbd56" />
<rect x="238.30" y="448.38" width="1.70" height="5.20" fill="#7dbd56" />
<rect x="256.20" y="448.38" width="1.30" height="5.20" fill="#7dbd56" />
<rect x="257.50" y="448.38" width="1.50" height="5.20" fill="#27396e" />
<rect x="262.50" y="448.38" width="2.90" height="5.20" fill="#7dbd56" />
<rect x="270.00" y="448.38" width="3.50" height="5.20" fill="#b9c95b" />
<rect x="296.30" y="448.38" width="1.20" height="5.20" fill="#7dbd56" />
<rect x="298.70" y="448.38" width="1.10" height="5.20" fill="#7dbd56" />
<rect x="305.00" y="448.38" width="7.50" height="5.20" fill="#7dbd56" />
<rect x="324.60" y="448.38" width="1.20" height="5.20" fill="#7dbd56" />
<rect x="331.80" y="448.38" width="2.00" height="5.20" fill="#7dbd56" />
<rect x="68.90" y="454.50" width="1.10" height="5.20" fill="#a3c48a" />
<rect x="80.50" y="454.50" width="1.10" height="5.20" fill="#a3c48a" />
<rect x="90.30" y="454.50" width="1.10" height="5.20" fill="#a3c48a" />
<rect x="95.40" y="454.50" width="1.20" height="5.20" fill="#a3c48a" />
<rect x="101.80" y="454.50" width="1.20" height="5.20" fill="#a3c48a" />
<rect x="105.80" y="454.50" width="1.20" height="5.20" fill="#a3c48a" />
<rect x="113.90" y="454.50" width="1.10" height="5.20" fill="#a3c48a" />
<rect x="118.50" y="454.50" width="1.10" height="5.20" fill="#a3c48a" />
<rect x="124.00" y="454.50" width="1.20" height="5.20" fill="#a3c48a" />
<rect x="139.00" y="454.50" width="1.20" height="5.20" fill="#a3c48a" />
<rect x="143.60" y="454.50" width="1.20" height="5.20" fill="#a3c48a" />
<rect x="148.80" y="454.50" width="1.20" height="5.20" fill="#a3c48a" />
<rect x="161.50" y="454.50" width="1.20" height="5.20" fill="#a3c48a" />
<rect x="165.60" y="454.50" width="1.10" height="5.20" fill="#a3c48a" />
<rect x="179.20" y="454.50" width="0.80" height="5.20" fill="#a3c48a" />
<rect x="197.60" y="454.50" width="3.40" height="5.20" fill="#7dbd56" />
<rect x="216.00" y="454.50" width="1.20" height="5.20" fill="#a3c48a" />
<rect x="240.00" y="454.50" width="1.20" height="5.20" fill="#7dbd56" />
<rect x="274.00" y="454.50" width="1.20" height="5.20" fill="#a3c48a" />
<rect x="286.80" y="454.50" width="1.20" height="5.20" fill="#a3c48a" />
<rect x="70.10" y="461.62" width="1.70" height="5.20" fill="#178a9c" />
<rect x="75.80" y="461.62" width="1.20" height="5.20" fill="#7dbd56" />
<rect x="78.10" y="461.62" width="1.80" height="5.20" fill="#b9c95b" />
<rect x="83.90" y="461.62" width="0.90" height="5.20" fill="#6c7b8b" />
<rect x="100.00" y="461.62" width="1.20" height="5.20" fill="#7dbd56" />
<rect x="101.60" y="461.62" width="1.00" height="5.20" fill="#7dbd56" />
<rect x="105.80" y="461.62" width="1.80" height="5.20" fill="#7dbd56" />
<rect x="115.00" y="461.62" width="3.00" height="5.20" fill="#4f9c45" />
<rect x="139.00" y="461.62" width="0.80" height="5.20" fill="#6c7b8b" />
<rect x="146.00" y="461.62" width="2.80" height="5.20" fill="#7dbd56" />
<rect x="158.10" y="461.62" width="2.30" height="5.20" fill="#7dbd56" />
<rect x="167.90" y="461.62" width="1.70" height="5.20" fill="#7dbd56" />
<rect x="182.60" y="461.62" width="2.30" height="5.20" fill="#4f9c45" />
<rect x="185.50" y="461.62" width="1.70" height="5.20" fill="#7dbd56" />
<rect x="189.50" y="461.62" width="1.20" height="5.20" fill="#7dbd56" />
<rect x="191.80" y="461.62" width="1.80" height="5.20" fill="#4f9c45" />
<rect x="197.00" y="461.62" width="2.30" height="5.20" fill="#178a9c" />
<rect x="201.00" y="461.62" width="1.20" height="5.20" fill="#6c7b8b" />
<rect x="217.20" y="461.62" width="1.20" height="5.20" fill="#7dbd56" />
<rect x="219.50" y="461.62" width="1.00" height="5.20" fill="#7dbd56" />
<rect x="222.40" y="461.62" width="1.20" height="5.20" fill="#7dbd56" />
<rect x="232.20" y="461.62" width="1.20" height="5.20" fill="#1b7fc4" />
<rect x="235.70" y="461.62" width="3.20" height="5.20" fill="#7dbd56" />
<rect x="240.00" y="461.62" width="1.20" height="5.20" fill="#7dbd56" />
<rect x="249.80" y="461.62" width="1.80" height="5.20" fill="#7dbd56" />
<rect x="253.90" y="461.62" width="1.70" height="5.20" fill="#7dbd56" />
<rect x="259.60" y="461.62" width="1.80" height="5.20" fill="#7dbd56" />
<rect x="266.00" y="461.62" width="1.10" height="5.20" fill="#7dbd56" />
<rect x="270.60" y="461.62" width="1.20" height="5.20" fill="#7dbd56" />
<rect x="274.00" y="461.62" width="1.80" height="5.20" fill="#7dbd56" />
<rect x="296.90" y="461.62" width="1.10" height="5.20" fill="#7dbd56" />
<rect x="299.80" y="461.62" width="4.00" height="5.20" fill="#7dbd56" />
<rect x="313.00" y="461.62" width="1.80" height="5.20" fill="#7dbd56" />
<rect x="316.00" y="461.62" width="1.70" height="5.20" fill="#6c7b8b" />
<rect x="322.30" y="461.62" width="1.10" height="5.20" fill="#7dbd56" />
<rect x="326.90" y="461.62" width="1.20" height="5.20" fill="#6c7b8b" />
<rect x="74.70" y="467.74" width="1.10" height="5.20" fill="#6c7b8b" />
<rect x="80.50" y="467.74" width="1.10" height="5.20" fill="#a3c48a" />
<rect x="116.20" y="467.74" width="1.20" height="5.20" fill="#b9c95b" />
<rect x="143.00" y="467.74" width="1.80" height="5.20" fill="#4a2b8c" />
<rect x="150.00" y="467.74" width="1.70" height="5.20" fill="#ec7c26" />
<rect x="157.50" y="467.74" width="1.10" height="5.20" fill="#6c7b8b" />
<rect x="175.10" y="467.74" width="1.60" height="5.20" fill="#4a2b8c" />
<rect x="201.60" y="467.74" width="1.20" height="5.20" fill="#8b5a3c" />
<rect x="219.00" y="467.74" width="1.10" height="5.20" fill="#a3c48a" />
<rect x="260.20" y="467.74" width="1.80" height="5.20" fill="#1b7fc4" />
<rect x="263.10" y="467.74" width="1.20" height="5.20" fill="#1b7fc4" />
<rect x="266.00" y="467.74" width="1.10" height="5.20" fill="#178a9c" />
<rect x="268.30" y="467.74" width="1.70" height="5.20" fill="#ec7c26" />
<rect x="271.20" y="467.74" width="2.30" height="5.20" fill="#178a9c" />
<rect x="275.20" y="467.74" width="4.60" height="5.20" fill="#b3303f" />
<rect x="315.40" y="467.74" width="2.30" height="5.20" fill="#8b5a3c" />
<rect x="71.20" y="473.86" width="1.20" height="5.20" fill="#a3c48a" />
<rect x="75.80" y="473.86" width="1.00" height="5.20" fill="#6c7b8b" />
<rect x="83.90" y="473.86" width="0.90" height="5.20" fill="#6c7b8b" />
<rect x="100.00" y="473.86" width="1.00" height="5.20" fill="#6c7b8b" />
<rect x="116.80" y="473.86" width="1.20" height="5.20" fill="#7dbd56" />
<rect x="133.30" y="473.86" width="1.10" height="5.20" fill="#6c7b8b" />
<rect x="146.50" y="473.86" width="1.20" height="5.20" fill="#7dbd56" />
<rect x="158.60" y="473.86" width="1.80" height="5.20" fill="#7dbd56" />
<rect x="167.90" y="473.86" width="1.70" height="5.20" fill="#7dbd56" />
<rect x="180.90" y="473.86" width="1.10" height="5.20" fill="#6c7b8b" />
<rect x="185.50" y="473.86" width="1.20" height="5.20" fill="#6c7b8b" />
<rect x="237.70" y="473.86" width="1.20" height="5.20" fill="#7dbd56" />
<rect x="274.00" y="473.86" width="1.20" height="5.20" fill="#6c7b8b" />
<rect x="301.00" y="473.86" width="1.10" height="5.20" fill="#a3c48a" />
<rect x="313.60" y="473.86" width="1.20" height="5.20" fill="#7dbd56" />
<rect x="322.30" y="473.86" width="1.10" height="5.20" fill="#6c7b8b" />
<rect x="80.50" y="479.98" width="2.30" height="5.20" fill="#b3303f" />
<rect x="92.00" y="479.98" width="1.70" height="5.20" fill="#b3303f" />
<rect x="122.90" y="479.98" width="1.10" height="5.20" fill="#1b7fc4" />
<rect x="129.80" y="479.98" width="1.20" height="5.20" fill="#7dbd56" />
<rect x="133.80" y="479.98" width="1.80" height="5.20" fill="#1b7fc4" />
<rect x="171.90" y="479.98" width="1.10" height="5.20" fill="#178a9c" />
<rect x="180.90" y="479.98" width="1.70" height="5.20" fill="#1b7fc4" />
<rect x="199.30" y="479.98" width="1.20" height="5.20" fill="#27396e" />
<rect x="262.50" y="479.98" width="1.20" height="5.20" fill="#1b7fc4" />
<rect x="275.20" y="479.98" width="1.20" height="5.20" fill="#6c7b8b" />
<rect x="279.80" y="479.98" width="1.20" height="5.20" fill="#27396e" />
<rect x="287.30" y="479.98" width="1.70" height="5.20" fill="#1b7fc4" />
<rect x="302.10" y="479.98" width="1.70" height="5.20" fill="#1b7fc4" />
<rect x="326.90" y="479.98" width="1.20" height="5.20" fill="#178a9c" />
<rect x="331.50" y="479.98" width="1.40" height="5.20" fill="#6c7b8b" />
<rect x="144.80" y="486.10" width="1.70" height="5.20" fill="#7dbd56" />
<rect x="157.50" y="486.10" width="1.70" height="5.20" fill="#7dbd56" />
<rect x="192.40" y="486.10" width="1.20" height="5.20" fill="#7dbd56" />
<rect x="202.80" y="486.10" width="1.20" height="5.20" fill="#6c7b8b" />
<rect x="261.40" y="486.10" width="1.80" height="5.20" fill="#7dbd56" />
<rect x="263.20" y="486.10" width="1.60" height="5.20" fill="#dc3028" />
<rect x="270.60" y="486.10" width="1.20" height="5.20" fill="#7dbd56" />
<rect x="274.00" y="486.10" width="1.80" height="5.20" fill="#7dbd56" />
<rect x="276.50" y="486.10" width="1.00" height="5.20" fill="#7dbd56" />
<rect x="281.00" y="486.10" width="1.70" height="5.20" fill="#6c7b8b" />
<rect x="301.00" y="486.10" width="1.10" height="5.20" fill="#a3c48a" />
<rect x="318.80" y="486.10" width="1.20" height="5.20" fill="#7dbd56" />
<rect x="329.20" y="486.10" width="1.70" height="5.20" fill="#8b5a3c" />
<rect x="333.30" y="486.10" width="1.70" height="5.20" fill="#ec7c26" />
<rect x="81.60" y="492.22" width="2.30" height="5.20" fill="#7dbd56" />
<rect x="90.80" y="492.22" width="1.00" height="5.20" fill="#7dbd56" />
<rect x="109.90" y="492.22" width="0.90" height="5.20" fill="#4a2b8c" />
<rect x="110.80" y="492.22" width="0.80" height="5.20" fill="#ec7c26" />
<rect x="139.00" y="492.22" width="1.20" height="5.20" fill="#7dbd56" />
<rect x="140.20" y="492.22" width="1.10" height="5.20" fill="#dc3028" />
<rect x="141.90" y="492.22" width="1.70" height="5.20" fill="#178a9c" />
<rect x="150.20" y="492.22" width="1.20" height="5.20" fill="#b3303f" />
<rect x="161.00" y="492.22" width="1.10" height="5.20" fill="#a3c48a" />
<rect x="167.30" y="492.22" width="1.10" height="5.20" fill="#a3c48a" />
<rect x="216.60" y="492.22" width="1.80" height="5.20" fill="#a3c48a" />
<rect x="247.00" y="492.22" width="1.10" height="5.20" fill="#1b7fc4" />
<rect x="289.00" y="492.22" width="1.20" height="5.20" fill="#1b7fc4" />
<rect x="290.00" y="492.22" width="0.90" height="5.20" fill="#1b7fc4" />
<rect x="313.00" y="492.22" width="2.00" height="5.20" fill="#a3c48a" />
<rect x="315.00" y="492.22" width="2.70" height="5.20" fill="#4f9c45" />
<rect x="330.40" y="492.22" width="1.10" height="5.20" fill="#4a2b8c" />
<rect x="101.20" y="498.34" width="1.20" height="5.20" fill="#27396e" />
<rect x="124.00" y="498.34" width="1.20" height="5.20" fill="#27396e" />
<rect x="135.00" y="498.34" width="1.70" height="5.20" fill="#178a9c" />
<rect x="150.20" y="498.34" width="1.20" height="5.20" fill="#178a9c" />
<rect x="161.00" y="498.34" width="1.10" height="5.20" fill="#a3c48a" />
<rect x="165.60" y="498.34" width="1.10" height="5.20" fill="#a3c48a" />
<rect x="176.50" y="498.34" width="1.20" height="5.20" fill="#1b7fc4" />
<rect x="185.50" y="498.34" width="1.20" height="5.20" fill="#7dbd56" />
<rect x="202.80" y="498.34" width="1.20" height="5.20" fill="#178a9c" />
<rect x="240.00" y="498.34" width="1.20" height="5.20" fill="#7dbd56" />
<rect x="254.50" y="498.34" width="1.30" height="5.20" fill="#b3303f" />
<rect x="259.60" y="498.34" width="1.20" height="5.20" fill="#6c7b8b" />
<rect x="286.70" y="498.34" width="1.20" height="5.20" fill="#27396e" />
<rect x="70.10" y="505.46" width="1.10" height="5.20" fill="#6c7b8b" />
<rect x="74.70" y="505.46" width="0.90" height="5.20" fill="#7dbd56" />
<rect x="81.00" y="505.46" width="2.30" height="5.20" fill="#4f9c45" />
<rect x="90.80" y="505.46" width="1.20" height="5.20" fill="#7dbd56" />
<rect x="94.30" y="505.46" width="1.70" height="5.20" fill="#7dbd56" />
<rect x="100.00" y="505.46" width="1.00" height="5.20" fill="#7dbd56" />
<rect x="117.40" y="505.46" width="1.10" height="5.20" fill="#7dbd56" />
<rect x="129.80" y="505.46" width="1.70" height="5.20" fill="#4f9c45" />
<rect x="131.50" y="505.46" width="1.80" height="5.20" fill="#dc3028" />
<rect x="159.20" y="505.46" width="1.20" height="5.20" fill="#7dbd56" />
<rect x="169.60" y="505.46" width="1.10" height="5.20" fill="#7dbd56" />
<rect x="175.40" y="505.46" width="1.10" height="5.20" fill="#7dbd56" />
<rect x="199.30" y="505.46" width="1.80" height="5.20" fill="#dc3028" />
<rect x="204.00" y="505.46" width="1.70" height="5.20" fill="#dc3028" />
<rect x="216.00" y="505.46" width="1.20" height="5.20" fill="#dc3028" />
<rect x="221.30" y="505.46" width="3.40" height="5.20" fill="#4f9c45" />
<rect x="245.80" y="505.46" width="1.70" height="5.20" fill="#7dbd56" />
<rect x="248.00" y="505.46" width="2.00" height="5.20" fill="#7dbd56" />
<rect x="250.50" y="505.46" width="2.80" height="5.20" fill="#7dbd56" />
<rect x="256.80" y="505.46" width="1.10" height="5.20" fill="#7dbd56" />
<rect x="264.80" y="505.46" width="1.00" height="5.20" fill="#7dbd56" />
<rect x="270.60" y="505.46" width="1.20" height="5.20" fill="#7dbd56" />
<rect x="281.00" y="505.46" width="1.10" height="5.20" fill="#6c7b8b" />
<rect x="285.60" y="505.46" width="1.20" height="5.20" fill="#6c7b8b" />
<rect x="296.30" y="505.46" width="1.20" height="5.20" fill="#6c7b8b" />
<rect x="302.10" y="505.46" width="1.20" height="5.20" fill="#7dbd56" />
<rect x="307.30" y="505.46" width="1.20" height="5.20" fill="#7dbd56" />
<rect x="311.90" y="505.46" width="1.20" height="5.20" fill="#6c7b8b" />
<rect x="325.80" y="505.46" width="1.10" height="5.20" fill="#6c7b8b" />
<rect x="77.00" y="511.58" width="1.10" height="5.20" fill="#8b5a3c" />
<rect x="80.50" y="511.58" width="1.10" height="5.20" fill="#7dbd56" />
<rect x="87.40" y="511.58" width="1.10" height="5.20" fill="#7dbd56" />
<rect x="90.80" y="511.58" width="1.00" height="5.20" fill="#7dbd56" />
<rect x="94.30" y="511.58" width="1.10" height="5.20" fill="#7dbd56" />
<rect x="139.00" y="511.58" width="1.80" height="5.20" fill="#4f9c45" />
<rect x="155.20" y="511.58" width="0.80" height="5.20" fill="#7dbd56" />
<rect x="164.40" y="511.58" width="0.80" height="5.20" fill="#7dbd56" />
<rect x="185.50" y="511.58" width="1.20" height="5.20" fill="#6c7b8b" />
<rect x="202.80" y="511.58" width="1.20" height="5.20" fill="#178a9c" />
<rect x="254.50" y="511.58" width="1.30" height="5.20" fill="#dc3028" />
<rect x="316.00" y="511.58" width="1.10" height="5.20" fill="#a3c48a" />
<rect x="333.80" y="511.58" width="2.10" height="5.20" fill="#dc3028" />
<rect x="70.10" y="517.70" width="1.10" height="5.20" fill="#178a9c" />
<rect x="81.60" y="517.70" width="1.20" height="5.20" fill="#7dbd56" />
<rect x="97.80" y="517.70" width="1.10" height="5.20" fill="#7dbd56" />
<rect x="121.70" y="517.70" width="0.80" height="5.20" fill="#6c7b8b" />
<rect x="139.00" y="517.70" width="1.80" height="5.20" fill="#4f9c45" />
<rect x="165.60" y="517.70" width="0.80" height="5.20" fill="#7dbd56" />
<rect x="233.40" y="517.70" width="1.10" height="5.20" fill="#6c7b8b" />
<rect x="285.60" y="517.70" width="1.20" height="5.20" fill="#7dbd56" />
<rect x="313.60" y="517.70" width="1.20" height="5.20" fill="#7dbd56" />
<rect x="103.00" y="523.82" width="1.40" height="5.20" fill="#178a9c" />
<rect x="156.30" y="523.82" width="1.80" height="5.20" fill="#178a9c" />
<rect x="160.40" y="523.82" width="1.10" height="5.20" fill="#1b7fc4" />
<rect x="168.40" y="523.82" width="1.20" height="5.20" fill="#1b7fc4" />
<rect x="205.10" y="523.82" width="1.50" height="5.20" fill="#1b7fc4" />
<rect x="285.60" y="523.82" width="1.20" height="5.20" fill="#1b7fc4" />
<rect x="301.00" y="523.82" width="1.50" height="5.20" fill="#1b7fc4" />
<rect x="317.10" y="523.82" width="1.50" height="5.20" fill="#27396e" />
<rect x="140.20" y="530.94" width="1.10" height="5.20" fill="#b3303f" />
<rect x="162.70" y="530.94" width="1.10" height="5.20" fill="#8b5a3c" />
<rect x="184.30" y="530.94" width="1.50" height="5.20" fill="#6c7b8b" />
<rect x="193.60" y="530.94" width="1.50" height="5.20" fill="#27396e" />
<rect x="202.80" y="530.94" width="1.20" height="5.20" fill="#27396e" />
<rect x="257.30" y="530.94" width="2.30" height="5.20" fill="#1b7fc4" />
<rect x="266.00" y="530.94" width="1.10" height="5.20" fill="#8b5a3c" />
<rect x="269.40" y="530.94" width="1.20" height="5.20" fill="#8b5a3c" />
<rect x="275.20" y="530.94" width="4.10" height="5.20" fill="#1b7fc4" />
<rect x="281.00" y="530.94" width="1.70" height="5.20" fill="#27396e" />
<rect x="285.60" y="530.94" width="0.90" height="5.20" fill="#ec7c26" />
<rect x="293.10" y="530.94" width="1.10" height="5.20" fill="#6c7b8b" />
<rect x="312.50" y="530.94" width="2.30" height="5.20" fill="#b3303f" />
<rect x="330.10" y="530.94" width="1.40" height="5.20" fill="#1b7fc4" />
<rect x="74.70" y="537.06" width="1.10" height="5.20" fill="#ec7c26" />
<rect x="95.40" y="537.06" width="1.20" height="5.20" fill="#8b5a3c" />
<rect x="98.70" y="537.06" width="1.10" height="5.20" fill="#dc3028" />
<rect x="110.40" y="537.06" width="1.80" height="5.20" fill="#b3303f" />
<rect x="113.90" y="537.06" width="0.90" height="5.20" fill="#8b5a3c" />
<rect x="140.20" y="537.06" width="1.10" height="5.20" fill="#b3303f" />
<rect x="143.00" y="537.06" width="1.20" height="5.20" fill="#178a9c" />
<rect x="161.00" y="537.06" width="2.30" height="5.20" fill="#4a2b8c" />
<rect x="163.30" y="537.06" width="2.80" height="5.20" fill="#ec7c26" />
<rect x="202.80" y="537.06" width="1.20" height="5.20" fill="#6c7b8b" />
<rect x="312.50" y="537.06" width="2.30" height="5.20" fill="#b3303f" />
<rect x="330.10" y="537.06" width="1.40" height="5.20" fill="#ec7c26" />
<rect x="70.10" y="543.18" width="1.10" height="5.20" fill="#7dbd56" />
<rect x="77.00" y="543.18" width="1.10" height="5.20" fill="#7dbd56" />
<rect x="90.80" y="543.18" width="1.20" height="5.20" fill="#7dbd56" />
<rect x="94.90" y="543.18" width="1.70" height="5.20" fill="#7dbd56" />
<rect x="98.90" y="543.18" width="1.10" height="5.20" fill="#7dbd56" />
<rect x="142.50" y="543.18" width="1.10" height="5.20" fill="#7dbd56" />
<rect x="154.60" y="543.18" width="1.20" height="5.20" fill="#7dbd56" />
<rect x="162.70" y="543.18" width="1.10" height="5.20" fill="#7dbd56" />
<rect x="234.00" y="543.18" width="1.70" height="5.20" fill="#7dbd56" />
<rect x="238.30" y="543.18" width="1.70" height="5.20" fill="#7dbd56" />
<rect x="249.30" y="543.18" width="1.70" height="5.20" fill="#27396e" />
<rect x="254.50" y="543.18" width="1.70" height="5.20" fill="#4f9c45" />
<rect x="104.10" y="549.30" width="1.50" height="5.20" fill="#a3c48a" />
<rect x="116.80" y="549.30" width="1.20" height="5.20" fill="#a3c48a" />
<rect x="142.50" y="549.30" width="1.10" height="5.20" fill="#a3c48a" />
<rect x="146.00" y="549.30" width="1.10" height="5.20" fill="#a3c48a" />
<rect x="147.70" y="549.30" width="1.10" height="5.20" fill="#a3c48a" />
<rect x="173.00" y="549.30" width="1.20" height="5.20" fill="#a3c48a" />
<rect x="217.20" y="549.30" width="1.20" height="5.20" fill="#6c7b8b" />
<rect x="236.20" y="549.30" width="2.70" height="5.20" fill="#1b7fc4" />
<rect x="249.30" y="549.30" width="1.70" height="5.20" fill="#27396e" />
<rect x="259.10" y="549.30" width="1.70" height="5.20" fill="#a3c48a" />
<rect x="275.20" y="549.30" width="1.80" height="5.20" fill="#a3c48a" />
<rect x="296.30" y="549.30" width="1.80" height="5.20" fill="#a3c48a" />
<rect x="301.50" y="549.30" width="1.40" height="5.20" fill="#a3c48a" />
<rect x="74.70" y="555.42" width="1.10" height="5.20" fill="#a3c48a" />
<rect x="97.80" y="555.42" width="1.10" height="5.20" fill="#a3c48a" />
<rect x="111.00" y="555.42" width="1.70" height="5.20" fill="#a3c48a" />
<rect x="120.20" y="555.42" width="1.80" height="5.20" fill="#9a6a3a" />
<rect x="150.60" y="555.42" width="1.10" height="5.20" fill="#a3c48a" />
<rect x="163.80" y="555.42" width="1.20" height="5.20" fill="#a3c48a" />
<rect x="305.60" y="555.42" width="2.30" height="5.20" fill="#a3c48a" />
<rect x="314.80" y="555.42" width="1.20" height="5.20" fill="#27396e" />
<rect x="80.50" y="561.54" width="1.30" height="5.20" fill="#7dbd56" />
<rect x="90.80" y="561.54" width="1.20" height="5.20" fill="#27396e" />
<rect x="116.00" y="561.54" width="1.10" height="5.20" fill="#dc3028" />
<rect x="154.60" y="561.54" width="1.20" height="5.20" fill="#a3c48a" />
<rect x="163.80" y="561.54" width="1.20" height="5.20" fill="#a3c48a" />
<rect x="219.00" y="561.54" width="1.40" height="5.20" fill="#7dbd56" />
<rect x="312.50" y="561.54" width="1.10" height="5.20" fill="#7dbd56" />
<rect x="107.90" y="567.66" width="1.20" height="5.20" fill="#27396e" />
<rect x="116.00" y="567.66" width="1.10" height="5.20" fill="#178a9c" />
<rect x="160.40" y="567.66" width="1.40" height="5.20" fill="#178a9c" />
<rect x="217.80" y="567.66" width="1.50" height="5.20" fill="#27396e" />
<rect x="307.10" y="567.66" width="2.30" height="5.20" fill="#1b7fc4" />
<rect x="174.20" y="573.78" width="1.20" height="5.20" fill="#a3c48a" />
<rect x="264.80" y="573.78" width="1.20" height="5.20" fill="#6c7b8b" />
<rect x="288.50" y="573.78" width="1.50" height="5.20" fill="#7dbd56" />
<rect x="305.00" y="573.78" width="1.10" height="5.20" fill="#7dbd56" />
<rect x="210.25" y="359.30" width="0.70" height="219.84" fill="#7a7a7a" />
<rect x="244.25" y="359.30" width="0.70" height="219.84" fill="#7a7a7a" />
<rect x="254.15" y="359.30" width="0.70" height="219.84" fill="#7a7a7a" />
<rect x="284.45" y="359.30" width="0.70" height="219.84" fill="#7a7a7a" />
<rect x="296.45" y="359.30" width="0.70" height="219.84" fill="#7a7a7a" />
<rect x="304.55" y="359.30" width="0.70" height="219.84" fill="#7a7a7a" />
<rect x="311.95" y="359.30" width="0.70" height="219.84" fill="#7a7a7a" />
<rect x="317.05" y="359.30" width="0.70" height="219.84" fill="#7a7a7a" />
<rect x="322.05" y="359.30" width="0.70" height="219.84" fill="#7a7a7a" />
<rect x="63.2" y="359.3" width="283.0" height="219.8400000000001" fill="none" stroke="#b8b8b8" stroke-width="0.6"/>
<rect x="63.50" y="583.00" width="282.50" height="3.50" fill="#e2e2e2" />
<text x="0.00" y="0.00" font-size="6.8" fill="#231f20" transform="translate(128.0,357.2) rotate(-45)" textLength="24.5" lengthAdjust="spacingAndGlyphs">CRLF2-r</text>
<text x="0.00" y="0.00" font-size="6.8" fill="#231f20" transform="translate(226.6,357.2) rotate(-45)" textLength="39.7" lengthAdjust="spacingAndGlyphs">ETV6::RUNX1</text>
<text x="0.00" y="0.00" font-size="6.8" fill="#231f20" transform="translate(248.0,357.2) rotate(-45)" textLength="51.7" lengthAdjust="spacingAndGlyphs">ETV6::RUNX1-like</text>
<text x="0.00" y="0.00" font-size="6.8" fill="#231f20" transform="translate(269.7,357.2) rotate(-45)" textLength="26.1" lengthAdjust="spacingAndGlyphs">C/EBPalt</text>
<text x="0.00" y="0.00" font-size="6.8" fill="#231f20" transform="translate(287.4,357.2) rotate(-45)" textLength="50" lengthAdjust="spacingAndGlyphs">High hyperdiploid</text>
<text x="0.00" y="0.00" font-size="6.8" fill="#231f20" transform="translate(299.7,357.2) rotate(-45)" textLength="39.8" lengthAdjust="spacingAndGlyphs">IGH::IGF2BP1</text>
<text x="0.00" y="0.00" font-size="6.8" fill="#231f20" transform="translate(306.6,357.2) rotate(-45)" textLength="18.5" lengthAdjust="spacingAndGlyphs">PAX5alt</text>
<text x="0.00" y="0.00" font-size="6.8" fill="#231f20" transform="translate(315.0,357.2) rotate(-45)" textLength="45.7" lengthAdjust="spacingAndGlyphs">BCR::ABL1/-like</text>
<text x="0.00" y="0.00" font-size="6.8" fill="#231f20" transform="translate(322.8,357.2) rotate(-45)" textLength="32" lengthAdjust="spacingAndGlyphs">TCF3::PBX1</text>
<text x="0.00" y="0.00" font-size="6.8" fill="#231f20" transform="translate(331.2,357.2) rotate(-45)" textLength="17.4" lengthAdjust="spacingAndGlyphs">Others</text>
<text x="0.00" y="0.00" font-size="6.8" fill="#231f20" transform="translate(352.4,357.2) rotate(-45)" textLength="24.1" lengthAdjust="spacingAndGlyphs">CRLF2-r</text>
<text x="0.00" y="0.00" font-size="6.8" fill="#231f20" transform="translate(360.0,357.2) rotate(-45)" textLength="53.9" lengthAdjust="spacingAndGlyphs">ETV6::RUNX1/-like</text>
<text x="0.00" y="0.00" font-size="6.8" fill="#231f20" transform="translate(367.0,357.2) rotate(-45)" textLength="25.6" lengthAdjust="spacingAndGlyphs">C/EBPalt</text>
<text x="0.00" y="0.00" font-size="6.8" fill="#231f20" transform="translate(376.2,357.2) rotate(-45)" textLength="48.7" lengthAdjust="spacingAndGlyphs">High hyperdiploid</text>
<text x="0.00" y="0.00" font-size="6.8" fill="#231f20" transform="translate(386.2,357.2) rotate(-45)" textLength="40.6" lengthAdjust="spacingAndGlyphs">IGH::IGF2BP1</text>
<text x="0.00" y="0.00" font-size="6.8" fill="#231f20" transform="translate(392.4,357.2) rotate(-45)" textLength="22.3" lengthAdjust="spacingAndGlyphs">PAX5alt</text>
<circle cx="354.75" cy="362.30" r="2.3" fill="#d62b20"/>
<circle cx="361.70" cy="362.30" r="2.3" fill="#173f75"/>
<circle cx="368.65" cy="362.30" r="2.3" fill="#173f75"/>
<circle cx="354.75" cy="368.42" r="2.3" fill="#d62b20"/>
<circle cx="389.50" cy="380.66" r="2.3" fill="#d62b20"/>
<circle cx="361.70" cy="387.78" r="1.7" fill="#f6b9c2"/>
<circle cx="368.65" cy="387.78" r="1.7" fill="#a9d2e6"/>
<circle cx="354.75" cy="400.02" r="2.3" fill="#d62b20"/>
<circle cx="361.70" cy="400.02" r="2.3" fill="#173f75"/>
<circle cx="354.75" cy="406.14" r="1.7" fill="#f6b9c2"/>
<circle cx="375.60" cy="450.98" r="1.7" fill="#a9d2e6"/>
<circle cx="389.50" cy="450.98" r="2.3" fill="#d62b20"/>
<circle cx="382.55" cy="464.22" r="1.7" fill="#f6b9c2"/>
<circle cx="368.65" cy="470.34" r="2.3" fill="#d62b20"/>
<circle cx="368.65" cy="488.70" r="2.3" fill="#d62b20"/>
<circle cx="354.75" cy="533.54" r="1.7" fill="#a9d2e6"/>
<circle cx="368.65" cy="533.54" r="2.3" fill="#d62b20"/>
<circle cx="354.75" cy="539.66" r="1.7" fill="#f6b9c2"/>
<circle cx="382.55" cy="551.90" r="1.7" fill="#f6b9c2"/>
<circle cx="389.50" cy="570.26" r="1.7" fill="#f6b9c2"/>
<text x="0.00" y="0.00" font-size="6.6" fill="#231f20" text-anchor="middle" transform="translate(398.2,371.5) rotate(90)" >JAK-STAT</text>
<text x="0.00" y="0.00" font-size="6.6" fill="#231f20" text-anchor="middle" transform="translate(406.4,406.1) rotate(90)" >B-cell</text>
<text x="0.00" y="0.00" font-size="6.6" fill="#231f20" text-anchor="middle" transform="translate(398.2,406.1) rotate(90)" >pathway</text>
<text x="0.00" y="0.00" font-size="6.6" fill="#231f20" text-anchor="middle" transform="translate(398.2,437.7) rotate(90)" >RAS</text>
<text x="0.00" y="0.00" font-size="6.6" fill="#231f20" text-anchor="middle" transform="translate(406.4,454.0) rotate(90)" >Cell</text>
<text x="0.00" y="0.00" font-size="6.6" fill="#231f20" text-anchor="middle" transform="translate(398.2,454.0) rotate(90)" >Cycle</text>
<text x="0.00" y="0.00" font-size="6.6" fill="#231f20" text-anchor="middle" transform="translate(398.2,482.6) rotate(90)" >Epigenetic</text>
<text x="0.00" y="0.00" font-size="6.6" fill="#231f20" text-anchor="middle" transform="translate(406.4,517.2) rotate(90)" >Transcription</text>
<text x="0.00" y="0.00" font-size="6.6" fill="#231f20" text-anchor="middle" transform="translate(398.2,517.2) rotate(90)" >factor</text>
<text x="0.00" y="0.00" font-size="6.6" fill="#231f20" text-anchor="middle" transform="translate(398.2,555.0) rotate(90)" >Others</text>
<text x="420.60" y="366.80" font-size="6.5" fill="#231f20" >Mutation types</text>
<rect x="420.70" y="369.70" width="4.60" height="4.60" fill="#1b7fc4" />
<text x="428.00" y="374.30" font-size="6.5" fill="#231f20" >Missense</text>
<rect x="420.70" y="376.45" width="4.60" height="4.60" fill="#dc3028" />
<text x="428.00" y="381.05" font-size="6.5" fill="#231f20" >Frameshift</text>
<rect x="420.70" y="383.20" width="4.60" height="4.60" fill="#ec7c26" />
<text x="428.00" y="387.80" font-size="6.5" fill="#231f20" >Nonsense</text>
<rect x="420.70" y="389.95" width="4.60" height="4.60" fill="#6c7b8b" />
<text x="428.00" y="394.55" font-size="6.5" fill="#231f20" >In-frame deletion</text>
<rect x="420.70" y="396.70" width="4.60" height="4.60" fill="#8b5a3c" />
<text x="428.00" y="401.30" font-size="6.5" fill="#231f20" >In-frame insertion</text>
<rect x="420.70" y="403.45" width="4.60" height="4.60" fill="#4a2b8c" />
<text x="428.00" y="408.05" font-size="6.5" fill="#231f20" >Splicing</text>
<rect x="420.70" y="410.20" width="4.60" height="4.60" fill="#7dbd56" />
<text x="428.00" y="414.80" font-size="6.5" fill="#231f20" >Focal deletion</text>
<text x="420.10" y="434.50" font-size="6.5" fill="#231f20" >Association with subtype</text>
<text x="420.10" y="442.30" font-size="6.5" fill="#231f20" >co-occurrence:</text>
<circle cx="422.2" cy="448.5" r="2.3" fill="#d62b20"/>
<text x="428.60" y="450.60" font-size="6.5" fill="#231f20" ><tspan font-style="italic">P</tspan> &lt; .002</text>
<text x="428.20" y="457.80" font-size="6.5" fill="#231f20" >(Bonferroni corrected <tspan font-style="italic">P</tspan> &lt; .05)</text>
<circle cx="422.2" cy="461.9" r="1.7" fill="#f6b9c2"/>
<text x="428.60" y="464.20" font-size="6.5" fill="#231f20" >.002 &lt; <tspan font-style="italic">P</tspan> &lt; .05</text>
<text x="420.10" y="473.00" font-size="6.5" fill="#231f20" >Exclusivity:</text>
<circle cx="422.2" cy="480.3" r="2.3" fill="#173f75"/>
<text x="428.60" y="482.40" font-size="6.5" fill="#231f20" ><tspan font-style="italic">P</tspan> &lt; .002</text>
<text x="428.20" y="490.00" font-size="6.5" fill="#231f20" >(Bonferroni corrected <tspan font-style="italic">P</tspan> &lt; .05)</text>
<circle cx="422.2" cy="495" r="1.7" fill="#a9d2e6"/>
<text x="428.60" y="497.30" font-size="6.5" fill="#231f20" >.002 &lt; <tspan font-style="italic">P</tspan> &lt; .05</text>
<rect x="0.5" y="0.5" width="519" height="593" fill="none" stroke="#5a5a5a" stroke-width="1.2"/>
</svg>
</body></html>
